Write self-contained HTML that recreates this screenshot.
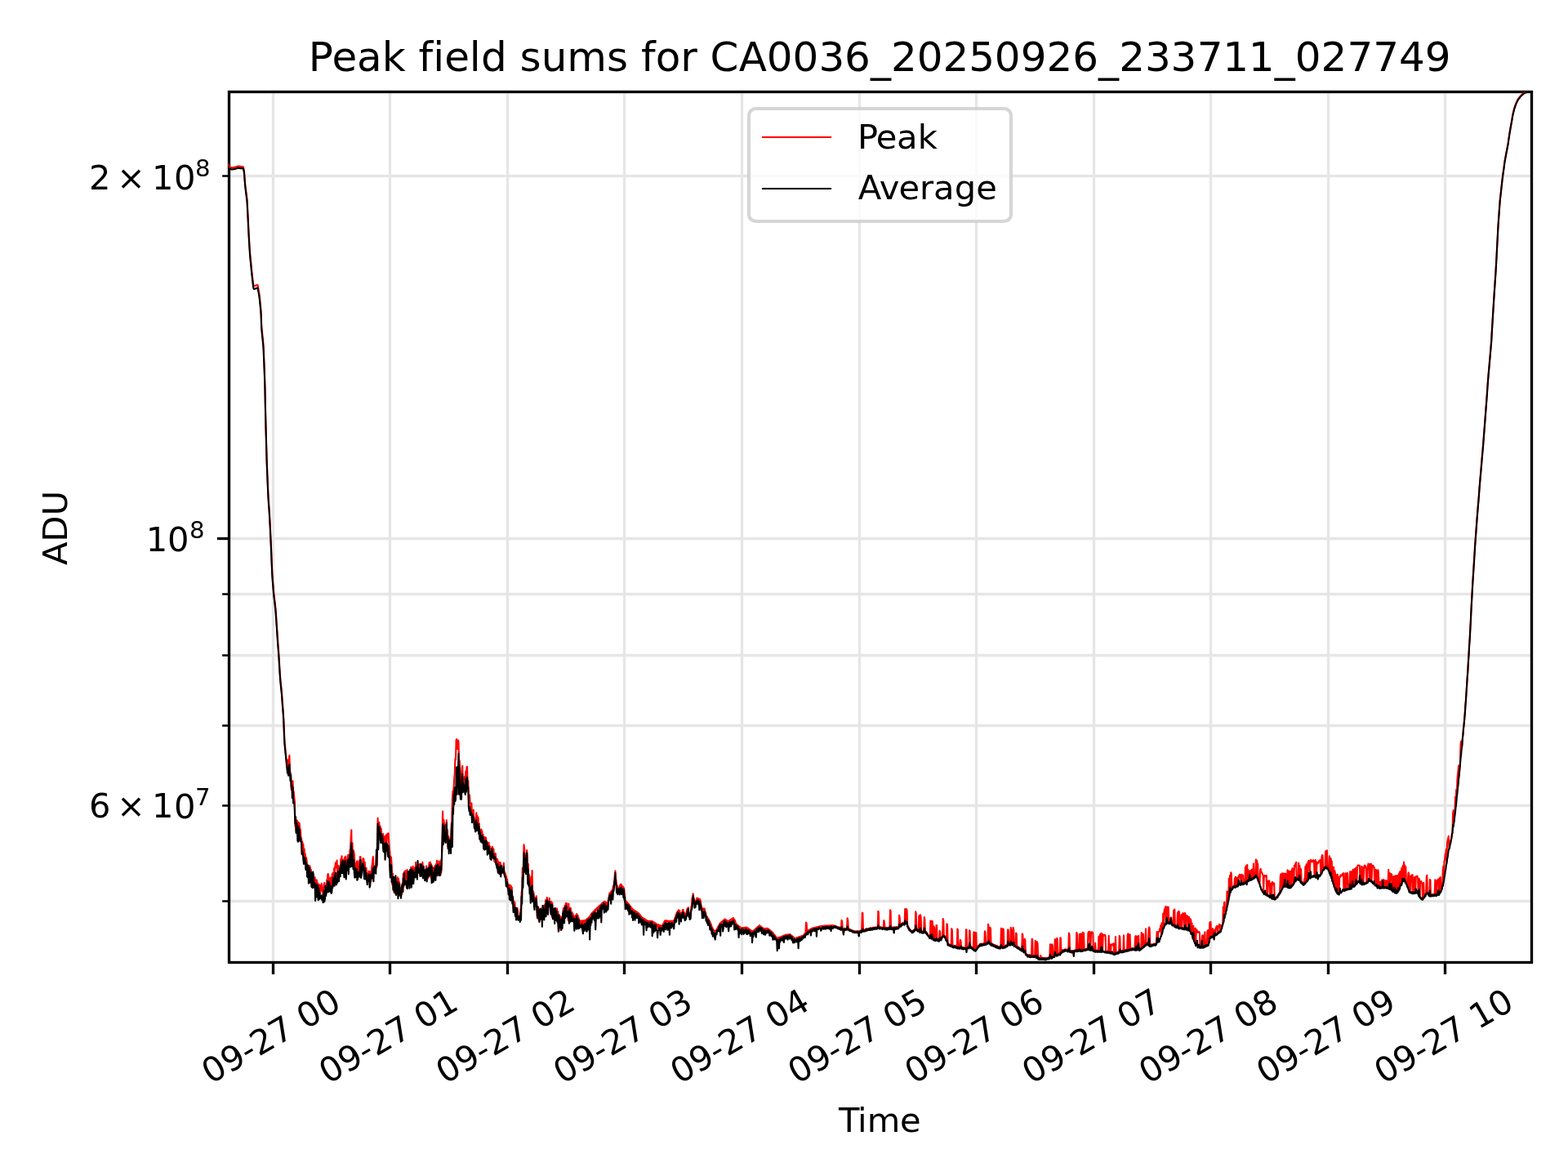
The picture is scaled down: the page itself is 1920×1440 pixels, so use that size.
<!DOCTYPE html>
<html lang="en">
<head>
<meta charset="utf-8">
<title>Peak field sums for CA0036_20250926_233711_027749</title>
<style>
html,body{margin:0;padding:0;background:#fff;width:1920px;height:1440px;overflow:hidden}
svg{display:block}
text{font-family:'DejaVu Sans','Liberation Sans',sans-serif;fill:#000;font-variant-ligatures:none;font-kerning:normal}
</style>
</head>
<body>
<svg width="1920" height="1440" viewBox="0 0 1920 1440">
<rect x="0" y="0" width="1920" height="1440" fill="#ffffff"/>
<g stroke="#e6e6e6" stroke-width="3.33" fill="none">
<line x1="334.5" y1="1177.79" x2="334.5" y2="112"/>
<line x1="477.5" y1="1177.79" x2="477.5" y2="112"/>
<line x1="621.5" y1="1177.79" x2="621.5" y2="112"/>
<line x1="764.5" y1="1177.79" x2="764.5" y2="112"/>
<line x1="908.5" y1="1177.79" x2="908.5" y2="112"/>
<line x1="1052.5" y1="1177.79" x2="1052.5" y2="112"/>
<line x1="1195.5" y1="1177.79" x2="1195.5" y2="112"/>
<line x1="1339.5" y1="1177.79" x2="1339.5" y2="112"/>
<line x1="1482.5" y1="1177.79" x2="1482.5" y2="112"/>
<line x1="1626.5" y1="1177.79" x2="1626.5" y2="112"/>
<line x1="1769.5" y1="1177.79" x2="1769.5" y2="112"/>
<line x1="279.63" y1="215.5" x2="1875" y2="215.5"/>
<line x1="279.63" y1="659.5" x2="1875" y2="659.5"/>
<line x1="279.63" y1="727.5" x2="1875" y2="727.5"/>
<line x1="279.63" y1="802.5" x2="1875" y2="802.5"/>
<line x1="279.63" y1="888.5" x2="1875" y2="888.5"/>
<line x1="279.63" y1="986.5" x2="1875" y2="986.5"/>
<line x1="279.63" y1="1103.5" x2="1875" y2="1103.5"/>
</g>
<g stroke="#000" fill="none">
<line x1="334.5" y1="1178.5" x2="334.5" y2="1193.08" stroke-width="3.33"/>
<line x1="477.5" y1="1178.5" x2="477.5" y2="1193.08" stroke-width="3.33"/>
<line x1="621.5" y1="1178.5" x2="621.5" y2="1193.08" stroke-width="3.33"/>
<line x1="764.5" y1="1178.5" x2="764.5" y2="1193.08" stroke-width="3.33"/>
<line x1="908.5" y1="1178.5" x2="908.5" y2="1193.08" stroke-width="3.33"/>
<line x1="1052.5" y1="1178.5" x2="1052.5" y2="1193.08" stroke-width="3.33"/>
<line x1="1195.5" y1="1178.5" x2="1195.5" y2="1193.08" stroke-width="3.33"/>
<line x1="1339.5" y1="1178.5" x2="1339.5" y2="1193.08" stroke-width="3.33"/>
<line x1="1482.5" y1="1178.5" x2="1482.5" y2="1193.08" stroke-width="3.33"/>
<line x1="1626.5" y1="1178.5" x2="1626.5" y2="1193.08" stroke-width="3.33"/>
<line x1="1769.5" y1="1178.5" x2="1769.5" y2="1193.08" stroke-width="3.33"/>
<line x1="272.17" y1="215.5" x2="280.5" y2="215.5" stroke-width="2.5"/>
<line x1="265.92" y1="659.5" x2="280.5" y2="659.5" stroke-width="3.33"/>
<line x1="272.17" y1="727.5" x2="280.5" y2="727.5" stroke-width="2.5"/>
<line x1="272.17" y1="802.5" x2="280.5" y2="802.5" stroke-width="2.5"/>
<line x1="272.17" y1="888.5" x2="280.5" y2="888.5" stroke-width="2.5"/>
<line x1="272.17" y1="986.5" x2="280.5" y2="986.5" stroke-width="2.5"/>
<line x1="272.17" y1="1103.5" x2="280.5" y2="1103.5" stroke-width="2.5"/>
</g>
<rect x="280.5" y="112.5" width="1595" height="1066" fill="none" stroke="#000" stroke-width="3.33" stroke-linejoin="miter"/>
<clipPath id="axclip"><rect x="279.63" y="112" width="1595.37" height="1065.79"/></clipPath>
<g clip-path="url(#axclip)" fill="none" stroke-width="2.08" stroke-linejoin="round" stroke-linecap="butt">
<path stroke="#ff0000" d="M279.6 200.3L280.2 202.5L280.8 204.4L281.4 204.6L282 204.8L282.6 205.1L283.2 205.2L283.8 205.1L284.3 205.3L284.9 205.2L285.5 205.1L286.1 205L286.7 204.9L287.3 204.8L287.9 204.7L288.5 204.6L289 204.2L289.6 204.1L290.2 204L290.8 203.7L291.4 203.4L292 203.7L292.6 203.5L293.2 203.6L293.8 203.9L294.3 203.9L294.9 203.9L295.5 204.1L296.1 203.9L296.7 204.2L297.3 204.2L297.9 204.2L298.5 207.1L299.1 210.6L299.6 218.3L300.2 225.7L300.8 230.1L301.4 234.8L302 239.3L302.6 244.7L303.2 256.5L303.8 268.2L304.3 279.6L304.9 290.3L305.5 300.7L306.1 309.4L306.7 315.7L307.3 321.7L307.9 328.2L308.5 334L309.1 338.8L309.6 343.5L310.2 348.4L310.8 350.3L311.4 350.3L312 349.9L312.6 349.8L313.2 349.5L313.8 349.4L314.4 349.1L314.9 348.9L315.5 349L316.1 352.2L316.7 355.4L317.3 358.6L317.9 363.4L318.5 369.5L319.1 375.1L319.6 381.3L320.2 398.7L320.8 404.6L321.4 410.6L322 416.4L322.6 423.7L323.2 438.2L323.8 453L324.4 471L324.9 496.2L325.5 520.4L326.1 542.6L326.7 563.9L327.3 578.7L327.9 593.5L328.5 606.8L329.1 615.5L329.7 624L330.2 632.4L330.8 643.6L331.4 656.8L332 669.7L332.6 684.6L333.2 699.2L333.8 708.3L334.4 715.3L334.9 722.4L335.5 727.6L336.1 732.7L336.7 737.7L337.3 742.9L337.9 750.5L338.5 759.7L339.1 768.8L339.7 777.9L340.2 785.5L340.8 793L341.4 801.2L342 811.1L342.6 821.2L343.2 829.8L343.8 835.7L344.4 841.7L345 847.5L345.5 855L346.1 862.7L346.7 870.4L347.3 879.8L347.9 895.1L348.5 908L349.1 914L349.7 920.1L350.2 927.3L350.8 931.6L351.4 934.5L352 943.5L352.6 930.5L353.2 934.6L353.8 929.9L354.4 925.1L355 943.8L355.5 946L356.1 947.7L356.7 966.9L357.3 963.2L357.9 958.9L358.5 956.4L359.1 972.6L359.7 969L360.3 976.8L360.8 979.8L361.4 1011.6L362 1000.2L362.6 1017.8L363.2 1009L363.8 1004.5L364.4 1014.5L365 1026L365.6 1006.7L366.1 1024.4L366.7 1008.2L367.3 1016.7L367.9 1015.6L368.5 1026.3L369.1 1026.4L369.7 1046L370.3 1030.6L370.8 1039.1L371.4 1033.8L372 1047.4L372.6 1039.5L373.2 1051.1L373.8 1045.9L374.4 1062.8L375 1050L375.6 1054.1L376.1 1059.6L376.7 1061.3L377.3 1071.3L377.9 1071.6L378.5 1073L379.1 1060L379.7 1061.9L380.3 1076.5L380.9 1065L381.4 1083.8L382 1069.7L382.6 1083.8L383.2 1082.6L383.8 1070.2L384.4 1079.3L385 1078.6L385.6 1074.3L386.1 1092.8L386.7 1077.7L387.3 1077.5L387.9 1077.7L388.5 1098.6L389.1 1081.4L389.7 1100.4L390.3 1083.3L390.9 1099.8L391.4 1083.5L392 1094.1L392.6 1085.2L393.2 1086.9L393.8 1081.8L394.4 1091.2L395 1089.9L395.6 1097L396.2 1086.2L396.7 1083.3L397.3 1081.1L397.9 1086.2L398.5 1085L399.1 1091.1L399.7 1084.5L400.3 1077.3L400.9 1076.3L401.4 1070.2L402 1070.3L402.6 1075.8L403.2 1080.2L403.8 1088.2L404.4 1076L405 1074.5L405.6 1083.1L406.2 1084.6L406.7 1070.4L407.3 1073.9L407.9 1068.7L408.5 1080L409.1 1063L409.7 1075.8L410.3 1061.2L410.9 1056.3L411.5 1062.3L412 1062.2L412.6 1053.6L413.2 1073.1L413.8 1065.9L414.4 1060L415 1067.1L415.6 1071.6L416.2 1061.3L416.7 1068.5L417.3 1052L417.9 1065.4L418.5 1048.3L419.1 1056.3L419.7 1059.7L420.3 1067.7L420.9 1052.5L421.5 1070.1L422 1050L422.6 1049.8L423.2 1048.6L423.8 1055.2L424.4 1064.9L425 1066.1L425.6 1053.8L426.2 1046.8L426.8 1054.2L427.3 1053L427.9 1050.8L428.5 1041L429.1 1039.3L429.7 1025L430.3 1016.2L430.9 1051.3L431.5 1032.3L432 1051.2L432.6 1041L433.2 1042.5L433.8 1046.7L434.4 1057.9L435 1062.3L435.6 1070L436.2 1058.5L436.8 1055.6L437.3 1054.3L437.9 1070.2L438.5 1064.5L439.1 1068.1L439.7 1054.2L440.3 1072.6L440.9 1049L441.5 1049L442.1 1063L442.6 1061.3L443.2 1058.9L443.8 1065.2L444.4 1051.2L445 1051.2L445.6 1052.8L446.2 1068.2L446.8 1056L447.3 1070.2L447.9 1067.5L448.5 1062.9L449.1 1072L449.7 1075.3L450.3 1070.5L450.9 1072.2L451.5 1066.8L452.1 1068.7L452.6 1066.9L453.2 1083L453.8 1069.9L454.4 1078.9L455 1062.3L455.6 1059.8L456.2 1054.1L456.8 1049L457.4 1058.3L457.9 1068.3L458.5 1066.3L459.1 1067.6L459.7 1065.6L460.3 1063L460.9 1046.4L461.5 1061.4L462.1 1036.2L462.6 1001.8L463.2 1016.8L463.8 1028.8L464.4 1007L465 1027.3L465.6 1011.8L466.2 1024.3L466.8 1014.8L467.4 1030.7L467.9 1031.5L468.5 1021L469.1 1021.3L469.7 1032.1L470.3 1030.4L470.9 1024.3L471.5 1025.5L472.1 1039.2L472.7 1022.3L473.2 1042.3L473.8 1026.2L474.4 1021L475 1024.9L475.6 1020.2L476.2 1030.6L476.8 1038.5L477.4 1044.2L477.9 1067.2L478.5 1048.8L479.1 1051L479.7 1061.5L480.3 1083L480.9 1069.9L481.5 1090.1L482.1 1084.5L482.7 1087.3L483.2 1076.1L483.8 1094L484.4 1075.5L485 1084.2L485.6 1082.3L486.2 1092.8L486.8 1074.3L487.4 1083.4L488 1076.1L488.5 1096.8L489.1 1079.8L489.7 1093.6L490.3 1086.8L490.9 1092.5L491.5 1088.5L492.1 1094.7L492.7 1084.1L493.3 1092.4L493.8 1069.8L494.4 1085.8L495 1067.6L495.6 1075.5L496.2 1066.2L496.8 1080.5L497.4 1067.2L498 1071.8L498.5 1065L499.1 1083.1L499.7 1072.9L500.3 1083.6L500.9 1073.1L501.5 1067.7L502.1 1065.2L502.7 1079.1L503.3 1061.7L503.8 1071.9L504.4 1063.9L505 1075.1L505.6 1060.9L506.2 1072.2L506.8 1063.6L507.4 1062.7L508 1072.2L508.6 1071.1L509.1 1056.1L509.7 1073.8L510.3 1059.1L510.9 1062.4L511.5 1063.5L512.1 1059.2L512.7 1062.4L513.3 1068.5L513.8 1058.1L514.4 1070.6L515 1058.3L515.6 1071.4L516.2 1058.6L516.8 1071L517.4 1055.7L518 1066.9L518.6 1060.5L519.1 1074.4L519.7 1072.2L520.3 1077.4L520.9 1073.5L521.5 1067.9L522.1 1060.3L522.7 1066.2L523.3 1066.8L523.9 1075.6L524.4 1065.1L525 1062.4L525.6 1056.3L526.2 1073.5L526.8 1055.7L527.4 1063.7L528 1058L528.6 1076.6L529.1 1060.2L529.7 1068.2L530.3 1063.1L530.9 1067.1L531.5 1062.1L532.1 1073.9L532.7 1060L533.3 1077.1L533.9 1058L534.4 1068.5L535 1053.8L535.6 1070.3L536.2 1065.5L536.8 1066.5L537.4 1054.6L538 1070.6L538.6 1060.1L539.2 1071.7L539.7 1053.6L540.3 1068.5L540.9 1049L541.5 1029L542.1 993.5L542.7 1022L543.3 1003.8L543.9 1007.7L544.4 1024.1L545 1014.3L545.6 1009.9L546.2 1029.1L546.8 1004.3L547.4 1032.3L548 1016.1L548.6 1036.7L549.2 1024.3L549.7 1038.6L550.3 1034.5L550.9 1040.2L551.5 1026L552.1 1029L552.7 1010.3L553.3 1004.3L553.9 978.9L554.5 968.5L555 971.2L555.6 964.3L556.2 953.1L556.8 947.7L557.4 928.8L558 930.2L558.6 906L559.2 905.2L559.7 906.8L560.3 917.2L560.9 906.6L561.5 907.7L562.1 935.8L562.7 931L563.3 941.8L563.9 969L564.5 953.5L565 952.5L565.6 946L566.2 937.7L566.8 955.3L567.4 962.9L568 952.7L568.6 956L569.2 950.6L569.8 957.1L570.3 944.3L570.9 958.7L571.5 939.3L572.1 938.9L572.7 965.4L573.3 956L573.9 979.1L574.5 979.5L575 973.5L575.6 983.7L576.2 983.4L576.8 990.1L577.4 983.5L578 998.4L578.6 995.4L579.2 996.7L579.8 991.8L580.3 999.9L580.9 1005.6L581.5 1005L582.1 1010.9L582.7 1004.2L583.3 995.2L583.9 1005.6L584.5 999.1L585.1 1015.9L585.6 1001.1L586.2 1013.3L586.8 1008.3L587.4 1027.6L588 1022.8L588.6 1019.7L589.2 1015.5L589.8 1018.3L590.3 1017.4L590.9 1026.7L591.5 1021.8L592.1 1033.3L592.7 1026.1L593.3 1040.3L593.9 1025L594.5 1034.5L595.1 1025.7L595.6 1037L596.2 1030.2L596.8 1032.8L597.4 1040.1L598 1044.9L598.6 1031.7L599.2 1041.5L599.8 1036L600.4 1047.7L600.9 1043.6L601.5 1044L602.1 1040.5L602.7 1036.7L603.3 1037.7L603.9 1051.1L604.5 1039.8L605.1 1054.4L605.6 1053.8L606.2 1055.9L606.8 1045L607.4 1055.8L608 1051.8L608.6 1055.8L609.2 1052L609.8 1067.4L610.4 1055.2L610.9 1056.7L611.5 1056L612.1 1070.4L612.7 1056L613.3 1070.2L613.9 1059.8L614.5 1069.1L615.1 1067.4L615.7 1065.4L616.2 1066.2L616.8 1056.7L617.4 1070L618 1068L618.6 1069.6L619.2 1071.7L619.8 1072.7L620.4 1077.9L621 1076.7L621.5 1082.1L622.1 1085.7L622.7 1087.3L623.3 1083.3L623.9 1087.8L624.5 1083.8L625.1 1090.9L625.7 1084.9L626.2 1089.4L626.8 1086.7L627.4 1105.1L628 1097.6L628.6 1112.9L629.2 1103.3L629.8 1116.5L630.4 1105L631 1116.3L631.5 1114L632.1 1119.7L632.7 1113.8L633.3 1111.7L633.9 1114.1L634.5 1120.9L635.1 1121.9L635.7 1122.8L636.3 1123.4L636.8 1124.6L637.4 1113.3L638 1112.8L638.6 1093.3L639.2 1089.8L639.8 1062.7L640.4 1075L641 1053.9L641.5 1034.3L642.1 1038.2L642.7 1065.7L643.3 1047.7L643.9 1052.1L644.5 1056.3L645.1 1041L645.7 1047.8L646.3 1066.3L646.8 1057.7L647.4 1082.5L648 1071.3L648.6 1083.9L649.2 1084.3L649.8 1089L650.4 1073.6L651 1085.8L651.6 1066L652.1 1093L652.7 1091L653.3 1092.3L653.9 1099L654.5 1099.4L655.1 1104.7L655.7 1103.9L656.3 1099.4L656.8 1097.3L657.4 1112.3L658 1123.9L658.6 1110.1L659.2 1125.6L659.8 1112.3L660.4 1128.8L661 1122.7L661.6 1116.7L662.1 1112.5L662.7 1118.6L663.3 1119.3L663.9 1115.8L664.5 1117.1L665.1 1109L665.7 1110.3L666.3 1122.9L666.9 1108.4L667.4 1121.8L668 1102.2L668.6 1111.4L669.2 1103.5L669.8 1099L670.4 1105.1L671 1117.7L671.6 1106.6L672.1 1110.6L672.7 1099.8L673.3 1109.8L673.9 1106.5L674.5 1116.8L675.1 1104L675.7 1122.6L676.3 1105.6L676.9 1123.3L677.4 1116L678 1119.2L678.6 1121.2L679.2 1126.3L679.8 1118.9L680.4 1121.2L681 1114.4L681.6 1112.3L682.2 1113.1L682.7 1128L683.3 1116.2L683.9 1129.8L684.5 1120.3L685.1 1136L685.7 1133.6L686.3 1139L686.9 1122.3L687.4 1123.7L688 1127.6L688.6 1130.7L689.2 1123.6L689.8 1112.3L690.4 1125.2L691 1120.4L691.6 1108.7L692.2 1120.8L692.7 1106.2L693.3 1105.7L693.9 1106L694.5 1121L695.1 1117.1L695.7 1126.6L696.3 1106.6L696.9 1129.7L697.5 1112.3L698 1112.3L698.6 1111.5L699.2 1116.1L699.8 1119.1L700.4 1116.9L701 1119.1L701.6 1119.2L702.2 1126L702.7 1121.6L703.3 1124.9L703.9 1122L704.5 1122.8L705.1 1120.5L705.7 1125.6L706.3 1119.1L706.9 1122.2L707.5 1120.7L708 1125L708.6 1124L709.2 1128.4L709.8 1127.2L710.4 1134.7L711 1127.6L711.6 1131.4L712.2 1127.5L712.8 1131L713.3 1127.3L713.9 1133.9L714.5 1127.2L715.1 1130.1L715.7 1127L716.3 1133L716.9 1126.7L717.5 1131.2L718 1125.8L718.6 1128.2L719.2 1124.8L719.8 1127.9L720.4 1123.8L721 1123.6L721.6 1122.8L722.2 1129.1L722.8 1120.9L723.3 1125.5L723.9 1119L724.5 1123.1L725.1 1117.6L725.7 1119.9L726.3 1116.5L726.9 1119.6L727.5 1115.3L728.1 1121.1L728.6 1114.1L729.2 1116.3L729.8 1112.9L730.4 1114.6L731 1111.8L731.6 1113.2L732.2 1110.6L732.8 1111.8L733.3 1109.6L733.9 1111.6L734.5 1108.5L735.1 1114.3L735.7 1107.5L736.3 1110.8L736.9 1106.4L737.5 1110.2L738.1 1105.4L738.6 1105.8L739.2 1104.3L739.8 1106.6L740.4 1103.9L741 1110.7L741.6 1104.6L742.2 1106.8L742.8 1105.3L743.4 1110.2L743.9 1106L744.5 1105.2L745.1 1099.4L745.7 1099.3L746.3 1093.9L746.9 1094.8L747.5 1092.5L748.1 1098.2L748.7 1091.1L749.2 1090.4L749.8 1089.7L750.4 1087.5L751 1084.4L751.6 1087.9L752.2 1077.6L752.8 1071.9L753.4 1066.4L753.9 1075.9L754.5 1078.1L755.1 1089.4L755.7 1084.2L756.3 1086.2L756.9 1086.6L757.5 1089.7L758.1 1086.5L758.7 1088.9L759.2 1083.7L759.8 1085.7L760.4 1082.5L761 1088.6L761.6 1084.2L762.2 1086.2L762.8 1085.8L763.4 1087L764 1087.5L764.5 1093.2L765.1 1096.4L765.7 1105.7L766.3 1103.3L766.9 1108.8L767.5 1104.4L768.1 1106L768.7 1105.6L769.2 1112L769.8 1106.8L770.4 1112.8L771 1108.3L771.6 1110.9L772.2 1109.9L772.8 1114.3L773.4 1111.5L774 1116.1L774.5 1113L775.1 1115.7L775.7 1114.1L776.3 1120L776.9 1114.8L777.5 1119L778.1 1115.6L778.7 1117L779.3 1116.3L779.8 1120.7L780.4 1117L781 1117.9L781.6 1117.8L782.2 1123.6L782.8 1119.1L783.4 1121.8L784 1120.5L784.5 1126.8L785.1 1121.9L785.7 1127.9L786.3 1123.2L786.9 1128.8L787.5 1124.2L788.1 1129.3L788.7 1124.9L789.3 1127.5L789.8 1125.6L790.4 1127.3L791 1126.4L791.6 1130.7L792.2 1127.1L792.8 1129.2L793.4 1127.8L794 1131.5L794.6 1127.8L795.1 1129.9L795.7 1127.8L796.3 1132.6L796.9 1127.8L797.5 1129.3L798.1 1127.8L798.7 1130.1L799.3 1128.4L799.8 1132.1L800.4 1129.1L801 1131L801.6 1129.9L802.2 1132.9L802.8 1130.6L803.4 1134.6L804 1131.4L804.6 1134.2L805.1 1132L805.7 1136.6L806.3 1132.4L806.9 1135.7L807.5 1132.7L808.1 1134L808.7 1133.1L809.3 1137.6L809.9 1133.4L810.4 1135.6L811 1133.3L811.6 1137.1L812.2 1130.9L812.8 1132.7L813.4 1128.6L814 1127.5L814.6 1127.1L815.1 1131.4L815.7 1127.2L816.3 1128.5L816.9 1127.4L817.5 1129L818.1 1127.6L818.7 1132.4L819.3 1127.7L819.9 1132.6L820.4 1127.8L821 1128L821.6 1127.7L822.2 1131.7L822.8 1127.7L823.4 1131.8L824 1127.6L824.6 1129.7L825.2 1127.1L825.7 1127.8L826.3 1123.9L826.9 1126.4L827.5 1120.7L828.1 1119.9L828.7 1117.5L829.3 1117.2L829.9 1115.5L830.4 1116.4L831 1114.3L831.6 1118L832.2 1115L832.8 1120.2L833.4 1117.7L834 1123.8L834.6 1118.3L835.2 1120.5L835.7 1114.7L836.3 1113.9L836.9 1114.6L837.5 1118.7L838.1 1118.1L838.7 1122.1L839.3 1120.8L839.9 1120.6L840.5 1116.7L841 1114.9L841.6 1112.6L842.2 1115.1L842.8 1111.2L843.4 1118.7L844 1117.5L844.6 1121.8L845.2 1121.4L845.7 1120L846.3 1110.4L846.9 1108.8L847.5 1099.5L848.1 1100.8L848.7 1094.3L849.3 1100.6L849.9 1100.2L850.5 1104L851 1105.7L851.6 1105.7L852.2 1102.5L852.8 1102.5L853.4 1099.6L854 1102.7L854.6 1100.1L855.2 1101.4L855.8 1100.5L856.3 1104.7L856.9 1101L857.5 1102L858.1 1104.5L858.7 1112.1L859.3 1110.7L859.9 1114.4L860.5 1113.9L861 1115.2L861.6 1112.4L862.2 1114.6L862.8 1112.5L863.4 1119L864 1117.2L864.6 1122.1L865.2 1121.5L865.8 1123.1L866.3 1123.3L866.9 1125.7L867.5 1125L868.1 1127.9L868.7 1127.2L869.3 1129.2L869.9 1130.1L870.5 1131.7L871.1 1133L871.6 1135.5L872.2 1135.7L872.8 1137.4L873.4 1138.1L874 1142.5L874.6 1139.6L875.2 1139.8L875.8 1139.6L876.4 1139.8L876.9 1139.1L877.5 1141.6L878.1 1136.9L878.7 1137.3L879.3 1134.8L879.9 1133.8L880.5 1132.6L881.1 1132.1L881.6 1130.5L882.2 1130.8L882.8 1129.4L883.4 1131.6L884 1128.4L884.6 1129.7L885.2 1127.4L885.8 1130.1L886.4 1126.4L886.9 1127.8L887.5 1125.4L888.1 1127.4L888.7 1126.1L889.3 1126.7L889.9 1126.9L890.5 1128.9L891.1 1127.6L891.7 1129.4L892.2 1127.6L892.8 1127.8L893.4 1126.8L894 1128.9L894.6 1126.1L895.2 1125.9L895.8 1125.4L896.4 1126.7L896.9 1124.6L897.5 1124.5L898.1 1123.9L898.7 1126.4L899.3 1125.9L899.9 1127.3L900.5 1128.6L901.1 1133L901.7 1131.2L902.2 1132.9L902.8 1132.3L903.4 1132.9L904 1133.3L904.6 1134.2L905.2 1134.3L905.8 1136.5L906.4 1135.3L907 1137L907.5 1136.3L908.1 1138.2L908.7 1136.1L909.3 1136.6L909.9 1136L910.5 1139.2L911.1 1135.8L911.7 1137.8L912.2 1135.7L912.8 1137.6L913.4 1135.6L914 1136.5L914.6 1135.8L915.2 1139.3L915.8 1136.5L916.4 1140.2L917 1137.3L917.5 1137.8L918.1 1138.1L918.7 1140.3L919.3 1138.9L919.9 1142.7L920.5 1139.7L921.1 1142.3L921.7 1140.5L922.3 1140L922.8 1139.4L923.4 1141.3L924 1138.4L924.6 1139.1L925.2 1137.3L925.8 1137L926.4 1136.3L927 1136L927.5 1135.2L928.1 1136.7L928.7 1134.1L929.3 1136.4L929.9 1133.1L930.5 1135.5L931.1 1133.9L931.7 1136.6L932.3 1134.9L932.8 1138.1L933.4 1135.9L934 1136.4L934.6 1136.8L935.2 1139L935.8 1137.1L936.4 1137.1L937 1137L937.6 1139.9L938.1 1136.9L938.7 1137.4L939.3 1136.7L939.9 1138L940.5 1137.1L941.1 1138.6L941.7 1138L942.3 1140.7L942.8 1139L943.4 1142.1L944 1139.9L944.6 1141.6L945.2 1140.9L945.8 1142.2L946.4 1142.1L947 1145.2L947.6 1143.6L948.1 1147L948.7 1145.1L949.3 1145.9L949.9 1146.6L950.5 1149L951.1 1148.1L951.7 1150.7L952.3 1148.6L952.9 1149.6L953.4 1148.1L954 1149.2L954.6 1147.6L955.2 1150L955.8 1147.2L956.4 1148.3L957 1146.7L957.6 1147.8L958.1 1146.2L958.7 1146.1L959.3 1145.7L959.9 1145.8L960.5 1145.2L961.1 1145.1L961.7 1144.7L962.3 1145.1L962.9 1144.6L963.4 1146.8L964 1144.4L964.6 1145.3L965.2 1144.2L965.8 1144.3L966.4 1144.1L967 1144.6L967.6 1144L968.2 1145.7L968.7 1145L969.3 1147.7L969.9 1146L970.5 1147.2L971.1 1147L971.7 1147.9L972.3 1148L972.9 1150.7L973.4 1148.9L974 1150.4L974.6 1148.5L975.2 1149.6L975.8 1148.1L976.4 1149.9L977 1147.7L977.6 1147.9L978.2 1147.3L978.7 1148.2L979.3 1146.9L979.9 1148.4L980.5 1146.5L981.1 1147.6L981.7 1146.1L982.3 1147.1L982.9 1145.8L983.5 1146.7L984 1144.8L984.6 1145.3L985.2 1143.4L985.8 1142.9L986.4 1142L987 1129.5L987.6 1130.5L988.2 1140.4L988.7 1139.6L989.3 1139.5L989.9 1139L990.5 1139.3L991.1 1138.4L991.7 1139.3L992.3 1137.8L992.9 1138.3L993.5 1137.2L994 1138.4L994.6 1136.6L995.2 1137.8L995.8 1136.3L996.4 1137.7L997 1136L997.6 1137.6L998.2 1135.7L998.8 1137.1L999.3 1135.4L999.9 1136.6L1000.5 1135.1L1001.1 1136.4L1001.7 1134.8L1002.3 1135.8L1002.9 1134.5L1003.5 1135.6L1004.1 1134.2L1004.6 1134.1L1005.2 1134L1005.8 1134.7L1006.4 1133.9L1007 1134.4L1007.6 1133.8L1008.2 1135.2L1008.8 1133.7L1009.3 1134L1009.9 1133.6L1010.5 1133.8L1011.1 1133.5L1011.7 1133.7L1012.3 1133.4L1012.9 1133.6L1013.5 1133.4L1014.1 1133.8L1014.6 1133.3L1015.2 1133.7L1015.8 1133.2L1016.4 1134.6L1017 1133.1L1017.6 1133.5L1018.2 1133.1L1018.8 1134.4L1019.4 1133.1L1019.9 1134.6L1020.5 1133.1L1021.1 1133.7L1021.7 1134.8L1022.3 1133.5L1022.9 1135.2L1023.5 1133.9L1024.1 1135.2L1024.6 1134.5L1025.2 1136.1L1025.8 1135.1L1026.4 1136.6L1027 1135.1L1027.6 1136.8L1028.2 1135.7L1028.8 1137.5L1029.4 1136.6L1029.9 1138.1L1030.5 1126.7L1031.1 1128.1L1031.7 1136.8L1032.3 1138.3L1032.9 1143.7L1033.5 1138.1L1034.1 1136.6L1034.7 1138L1035.2 1136.9L1035.8 1138.1L1036.4 1137.1L1037 1137.9L1037.6 1124.2L1038.2 1126.4L1038.8 1137.4L1039.4 1138.6L1039.9 1137.4L1040.5 1139.1L1041.1 1138.1L1041.7 1139.3L1042.3 1138.7L1042.9 1139.7L1043.5 1139.2L1044.1 1140.8L1044.7 1139.7L1045.2 1140.8L1045.8 1139.9L1046.4 1141.3L1047 1140.4L1047.6 1141.1L1048.2 1140.2L1048.8 1141.4L1049.4 1140.3L1050 1141.1L1050.5 1139.8L1051.1 1141.2L1051.7 1145.6L1052.3 1140.8L1052.9 1139.9L1053.5 1140.9L1054.1 1139.4L1054.7 1141.1L1055.2 1139.1L1055.8 1117.5L1056.4 1118L1057 1140L1057.6 1138.8L1058.2 1139.7L1058.8 1138.5L1059.4 1139.6L1060 1137.5L1060.5 1138.9L1061.1 1137.1L1061.7 1138.8L1062.3 1137.5L1062.9 1138.4L1063.5 1136.7L1064.1 1137.8L1064.7 1136.9L1065.3 1138.2L1065.8 1136.1L1066.4 1137.8L1067 1136.3L1067.6 1137.9L1068.2 1136L1068.8 1137.6L1069.4 1135.6L1070 1137L1070.5 1135.9L1071.1 1137L1071.7 1135.3L1072.3 1136.6L1072.9 1135.4L1073.5 1137L1074.1 1135.6L1074.7 1136.4L1075.3 1115.8L1075.8 1116.8L1076.4 1135.6L1077 1136.7L1077.6 1135.3L1078.2 1136.4L1078.8 1135.2L1079.4 1136.5L1080 1135.9L1080.6 1137L1081.1 1135.3L1081.7 1136.8L1082.3 1127L1082.9 1129.6L1083.5 1135.8L1084.1 1137.5L1084.7 1135.7L1085.3 1137.6L1085.8 1136L1086.4 1137.8L1087 1135.7L1087.6 1137.2L1088.2 1135.6L1088.8 1137.4L1089.4 1135.5L1090 1114.2L1090.6 1115.2L1091.1 1137.2L1091.7 1135.5L1092.3 1137.3L1092.9 1135.5L1093.5 1136.9L1094.1 1135.5L1094.7 1141.6L1095.3 1135.1L1095.9 1136.8L1096.4 1135.5L1097 1137.1L1097.6 1135.1L1098.2 1136.5L1098.8 1135.1L1099.4 1136.7L1100 1135L1100.6 1135.7L1101.1 1120.8L1101.7 1123.3L1102.3 1133L1102.9 1134L1103.5 1131.3L1104.1 1132.8L1104.7 1130.2L1105.3 1131.7L1105.9 1129.9L1106.4 1131.4L1107 1130.2L1107.6 1131.8L1108.2 1113L1108.8 1115.5L1109.4 1130.5L1110 1113L1110.6 1115.1L1111.2 1134L1111.7 1133.5L1112.3 1136.3L1112.9 1135.7L1113.5 1138.5L1114.1 1137.6L1114.7 1139.3L1115.3 1139L1115.9 1140.5L1116.4 1140L1117 1141.5L1117.6 1139.6L1118.2 1140.8L1118.8 1138.7L1119.4 1140L1120 1137.7L1120.6 1138.7L1121.2 1116.2L1121.7 1118.1L1122.3 1137.1L1122.9 1138.8L1123.5 1137.8L1124.1 1139.9L1124.7 1139L1125.3 1121.3L1125.9 1123.8L1126.5 1141.4L1127 1120.3L1127.6 1122.5L1128.2 1139.9L1128.8 1141.6L1129.4 1140.4L1130 1141.9L1130.6 1140.3L1131.2 1141.7L1131.8 1123L1132.3 1125.8L1132.9 1140.3L1133.5 1141.9L1134.1 1140.8L1134.7 1143.5L1135.3 1142.4L1135.9 1144.9L1136.5 1144.7L1137 1146.1L1137.6 1146.1L1138.2 1148.3L1138.8 1147.4L1139.4 1127.5L1140 1130.4L1140.6 1149L1141.2 1127.5L1141.8 1128.6L1142.3 1148.7L1142.9 1150.5L1143.5 1134.2L1144.1 1136.6L1144.7 1149.2L1145.3 1151.3L1145.9 1149.5L1146.5 1133L1147.1 1133L1147.6 1151.2L1148.2 1150.6L1148.8 1151.6L1149.4 1149.8L1150 1151.9L1150.6 1139.7L1151.2 1141.5L1151.8 1149.8L1152.3 1150.7L1152.9 1147.6L1153.5 1147.9L1154.1 1146.1L1154.7 1125L1155.3 1126.9L1155.9 1146.4L1156.5 1145.7L1157.1 1147.8L1157.6 1147.1L1158.2 1150.5L1158.8 1151.5L1159.4 1131.3L1160 1132.3L1160.6 1156.6L1161.2 1155.4L1161.8 1157L1162.4 1156.3L1162.9 1157.6L1163.5 1156.8L1164.1 1157.9L1164.7 1156.6L1165.3 1137L1165.9 1139.3L1166.5 1159.2L1167.1 1157.8L1167.6 1159.7L1168.2 1157.9L1168.8 1159.5L1169.4 1158L1170 1159.6L1170.6 1158.4L1171.2 1160.2L1171.8 1158.9L1172.4 1137.5L1172.9 1138.6L1173.5 1160.4L1174.1 1159.5L1174.7 1161.2L1175.3 1159.6L1175.9 1150.8L1176.5 1151.9L1177.1 1160.9L1177.7 1159.6L1178.2 1161.3L1178.8 1159.8L1179.4 1161.7L1180 1159.9L1180.6 1161.5L1181.2 1160.5L1181.8 1161.4L1182.4 1159.8L1182.9 1138.3L1183.5 1138.3L1184.1 1160.8L1184.7 1159.6L1185.3 1160.3L1185.9 1159.5L1186.5 1160.6L1187.1 1139.2L1187.7 1140L1188.2 1158.3L1188.8 1160.5L1189.4 1159.3L1190 1160.9L1190.6 1160.4L1191.2 1161.8L1191.8 1160.7L1192.4 1141.3L1193 1142L1193.5 1163.7L1194.1 1162.9L1194.7 1141.7L1195.3 1142.2L1195.9 1162.2L1196.5 1160L1197.1 1160.6L1197.7 1158.4L1198.2 1159L1198.8 1157.3L1199.4 1158.2L1200 1155.8L1200.6 1157.4L1201.2 1155.6L1201.8 1157.4L1202.4 1155.5L1203 1156.9L1203.5 1155.7L1204.1 1156.6L1204.7 1155L1205.3 1156.5L1205.9 1140.3L1206.5 1141.4L1207.1 1154.6L1207.7 1155.9L1208.3 1154.1L1208.8 1155.3L1209.4 1153.7L1210 1131.7L1210.6 1134.3L1211.2 1154.8L1211.8 1153.9L1212.4 1135.8L1213 1137L1213.5 1156.8L1214.1 1155.1L1214.7 1157.3L1215.3 1155.7L1215.9 1157.7L1216.5 1156.7L1217.1 1158L1217.7 1156.9L1218.3 1158.6L1218.8 1157.5L1219.4 1159.5L1220 1158L1220.6 1159.8L1221.2 1158.2L1221.8 1160.1L1222.4 1159.1L1223 1160.7L1223.6 1159.1L1224.1 1160.8L1224.7 1159.6L1225.3 1160.6L1225.9 1136.7L1226.5 1136.7L1227.1 1158.5L1227.7 1160.5L1228.3 1137.5L1228.8 1137.8L1229.4 1158.6L1230 1159.8L1230.6 1158.2L1231.2 1159.5L1231.8 1157.2L1232.4 1158.6L1233 1157.4L1233.6 1158L1234.1 1138.3L1234.7 1138.7L1235.3 1156.1L1235.9 1156.6L1236.5 1155.3L1237.1 1156.8L1237.7 1135.8L1238.3 1138.5L1238.9 1155.1L1239.4 1156.6L1240 1155.3L1240.6 1135.8L1241.2 1138.1L1241.8 1158.1L1242.4 1156.7L1243 1158.2L1243.6 1157.9L1244.1 1142.5L1244.7 1143.4L1245.3 1160.2L1245.9 1159L1246.5 1160.9L1247.1 1159.7L1247.7 1161.4L1248.3 1160.3L1248.9 1162.4L1249.4 1161.8L1250 1162.9L1250.6 1162.1L1251.2 1164L1251.8 1143.3L1252.4 1145.2L1253 1163.9L1253.6 1165.6L1254.2 1164.8L1254.7 1149.7L1255.3 1150.8L1255.9 1168.3L1256.5 1167.6L1257.1 1169.2L1257.7 1168.8L1258.3 1171L1258.9 1169.7L1259.5 1170.5L1260 1169.1L1260.6 1171.2L1261.2 1169.3L1261.8 1171.4L1262.4 1169.4L1263 1171.1L1263.6 1149.7L1264.2 1150L1264.7 1169.9L1265.3 1171L1265.9 1170.3L1266.5 1171.4L1267.1 1170.5L1267.7 1151.7L1268.3 1153.6L1268.9 1172.4L1269.5 1171.9L1270 1153.3L1270.6 1156.1L1271.2 1173.9L1271.8 1172.5L1272.4 1174.2L1273 1173.1L1273.6 1174.2L1274.2 1170L1274.8 1172.6L1275.3 1173L1275.9 1174.2L1276.5 1172.7L1277.1 1174.2L1277.7 1172.9L1278.3 1174.4L1278.9 1173L1279.5 1174.4L1280 1172.9L1280.6 1174.6L1281.2 1172.9L1281.8 1173.8L1282.4 1173.1L1283 1173.7L1283.6 1172.3L1284.2 1173.6L1284.8 1172L1285.3 1173.4L1285.9 1156.3L1286.5 1156.6L1287.1 1171.9L1287.7 1173.1L1288.3 1156.3L1288.9 1158.6L1289.5 1170.6L1290.1 1171.2L1290.6 1170.1L1291.2 1171.2L1291.8 1150L1292.4 1152.9L1293 1169.1L1293.6 1169.9L1294.2 1148.7L1294.8 1150.5L1295.3 1168L1295.9 1168.9L1296.5 1167.5L1297.1 1168.3L1297.7 1166.7L1298.3 1148.3L1298.9 1149L1299.5 1166.5L1300.1 1164.4L1300.6 1165.5L1301.2 1163.4L1301.8 1165L1302.4 1163.1L1303 1164.4L1303.6 1162.5L1304.2 1163.9L1304.8 1162.3L1305.4 1163.5L1305.9 1162.6L1306.5 1163.8L1307.1 1162.9L1307.7 1164.8L1308.3 1163L1308.9 1142.5L1309.5 1145.1L1310.1 1165.2L1310.6 1164.2L1311.2 1165.3L1311.8 1164L1312.4 1165.8L1313 1163.9L1313.6 1165.2L1314.2 1164L1314.8 1170.1L1315.4 1163.8L1315.9 1164.8L1316.5 1163.2L1317.1 1164.2L1317.7 1162.7L1318.3 1141.7L1318.9 1143.7L1319.5 1164.3L1320.1 1162.6L1320.7 1164.1L1321.2 1162.7L1321.8 1143.7L1322.4 1143.7L1323 1164.3L1323.6 1143.2L1324.2 1164.3L1324.8 1162.8L1325.4 1145.3L1325.9 1141.9L1326.5 1163.5L1327.1 1142.6L1327.7 1163.2L1328.3 1162.1L1328.9 1163.3L1329.5 1161.9L1330.1 1162.8L1330.7 1161.5L1331.2 1162.4L1331.8 1161.6L1332.4 1142.7L1333 1141.1L1333.6 1142.1L1334.2 1140.8L1334.8 1163L1335.4 1161.7L1336 1142.5L1336.5 1141.2L1337.1 1143L1337.7 1141.4L1338.3 1143.2L1338.9 1163.1L1339.5 1164.2L1340.1 1162.9L1340.7 1164.9L1341.2 1154.8L1341.8 1164.8L1342.4 1163.6L1343 1164.8L1343.6 1163.6L1344.2 1164.9L1344.8 1163.6L1345.4 1146.6L1346 1163.5L1346.5 1165L1347.1 1144.1L1347.7 1164.9L1348.3 1142.9L1348.9 1144.2L1349.5 1143.3L1350.1 1164.6L1350.7 1144.5L1351.3 1145.7L1351.8 1145.5L1352.4 1144.6L1353 1144.7L1353.6 1146.4L1354.2 1164.7L1354.8 1165.8L1355.4 1164.8L1356 1166L1356.5 1164.6L1357.1 1165.9L1357.7 1145.9L1358.3 1166.4L1358.9 1165L1359.5 1156.6L1360.1 1165.4L1360.7 1156.6L1361.3 1156.5L1361.8 1156.5L1362.4 1156L1363 1157.8L1363.6 1155.3L1364.2 1168.4L1364.8 1156.1L1365.4 1168.1L1366 1147L1366.6 1167.3L1367.1 1166.1L1367.7 1167L1368.3 1165.6L1368.9 1166.9L1369.5 1165.4L1370.1 1166.5L1370.7 1145.8L1371.3 1147.2L1371.9 1164.5L1372.4 1165.6L1373 1164L1373.6 1165.6L1374.2 1163.8L1374.8 1165.3L1375.4 1163.9L1376 1145.4L1376.6 1163.4L1377.1 1164.5L1377.7 1163.2L1378.3 1164.6L1378.9 1163L1379.5 1164.1L1380.1 1162.3L1380.7 1145.5L1381.3 1143.2L1381.9 1163.7L1382.4 1144.7L1383 1163.1L1383.6 1144.3L1384.2 1162.7L1384.8 1161.3L1385.4 1162.8L1386 1161.1L1386.6 1162.4L1387.2 1160.9L1387.7 1162.5L1388.3 1161.5L1388.9 1162.3L1389.5 1161.2L1390.1 1147L1390.7 1146L1391.3 1147.3L1391.9 1161.7L1392.4 1162.9L1393 1146.6L1393.6 1148.2L1394.2 1145.8L1394.8 1163.2L1395.4 1161.8L1396 1162.9L1396.6 1160.9L1397.2 1161.9L1397.7 1142L1398.3 1143L1398.9 1159L1399.5 1160L1400.1 1143.8L1400.7 1159.2L1401.3 1157.2L1401.9 1157.9L1402.5 1156.3L1403 1137.4L1403.6 1155.1L1404.2 1155.5L1404.8 1154.4L1405.4 1156.6L1406 1155.2L1406.6 1136.8L1407.2 1135.4L1407.7 1137.5L1408.3 1156.7L1408.9 1158.4L1409.5 1156.7L1410.1 1157.7L1410.7 1156.2L1411.3 1157.5L1411.9 1156.3L1412.5 1156.9L1413 1155.5L1413.6 1156.5L1414.2 1155.5L1414.8 1157L1415.4 1155.2L1416 1155.9L1416.6 1141L1417.2 1143.8L1417.8 1153.3L1418.3 1140.7L1418.9 1140.7L1419.5 1140.6L1420.1 1137.4L1420.7 1137.5L1421.3 1133.1L1421.9 1145.6L1422.5 1130.4L1423 1142.7L1423.6 1139.1L1424.2 1118.9L1424.8 1136.1L1425.4 1116.7L1426 1113.4L1426.6 1112.5L1427.2 1110.1L1427.8 1131.3L1428.3 1111.2L1428.9 1112.9L1429.5 1110.4L1430.1 1130L1430.7 1110.8L1431.3 1130L1431.9 1128.6L1432.5 1130.5L1433.1 1129.5L1433.6 1123.6L1434.2 1123.5L1434.8 1131.8L1435.4 1130.8L1436 1132.9L1436.6 1131.4L1437.2 1114.8L1437.8 1113.8L1438.3 1113.6L1438.9 1132.6L1439.5 1134.8L1440.1 1133.7L1440.7 1135.4L1441.3 1134.2L1441.9 1118.9L1442.5 1116.6L1443.1 1136.4L1443.6 1115.8L1444.2 1118.3L1444.8 1135L1445.4 1136.1L1446 1135.1L1446.6 1120.4L1447.2 1135.4L1447.8 1119.6L1448.4 1118.1L1448.9 1119.7L1449.5 1120L1450.1 1137.6L1450.7 1118L1451.3 1118.3L1451.9 1136.8L1452.5 1137.9L1453.1 1121.1L1453.6 1122.6L1454.2 1121.9L1454.8 1124L1455.4 1137.2L1456 1122.8L1456.6 1137.5L1457.2 1126.1L1457.8 1125.4L1458.4 1127.3L1458.9 1142.8L1459.5 1130.5L1460.1 1145.7L1460.7 1148.8L1461.3 1133.9L1461.9 1151.7L1462.5 1152L1463.1 1138.6L1463.7 1136.6L1464.2 1157.4L1464.8 1138.2L1465.4 1141L1466 1139.4L1466.6 1141.7L1467.2 1141.8L1467.8 1141.3L1468.4 1141.1L1468.9 1142.5L1469.5 1158.4L1470.1 1160L1470.7 1158.1L1471.3 1159.8L1471.9 1145.9L1472.5 1145.9L1473.1 1145.2L1473.7 1159.5L1474.2 1157.8L1474.8 1159.3L1475.4 1141.2L1476 1158.6L1476.6 1156.6L1477.2 1157.9L1477.8 1156.3L1478.4 1140.4L1479 1139.4L1479.5 1138.8L1480.1 1154.3L1480.7 1152.8L1481.3 1129.5L1481.9 1148.2L1482.5 1128.7L1483.1 1147.5L1483.7 1146.2L1484.2 1147L1484.8 1137L1485.4 1146.4L1486 1144.5L1486.6 1149.6L1487.2 1138.2L1487.8 1145L1488.4 1143.3L1489 1136.2L1489.5 1134.3L1490.1 1136.4L1490.7 1133.9L1491.3 1142.7L1491.9 1133.7L1492.5 1134.2L1493.1 1131.7L1493.7 1133L1494.3 1139.3L1494.8 1132.8L1495.4 1137.3L1496 1136.5L1496.6 1132.9L1497.2 1131.9L1497.8 1110.5L1498.4 1128.1L1499 1105.3L1499.6 1104.7L1500.1 1119.5L1500.7 1118.9L1501.3 1114.5L1501.9 1114.1L1502.5 1091.5L1503.1 1107.8L1503.7 1103.8L1504.3 1102.2L1504.8 1075.9L1505.4 1096.5L1506 1072.1L1506.6 1092.5L1507.2 1068.2L1507.8 1069.9L1508.4 1087.5L1509 1088.2L1509.6 1085.8L1510.1 1086.5L1510.7 1084.6L1511.3 1085.7L1511.9 1075.2L1512.5 1086.1L1513.1 1073.5L1513.7 1074.9L1514.3 1083.5L1514.9 1075.1L1515.4 1083.4L1516 1084.6L1516.6 1072.8L1517.2 1074.8L1517.8 1070.9L1518.4 1073.8L1519 1072.3L1519.6 1082.8L1520.1 1070.7L1520.7 1072.7L1521.3 1071.6L1521.9 1071.5L1522.5 1080.2L1523.1 1082.1L1523.7 1080.6L1524.3 1081.1L1524.9 1061.9L1525.4 1061.8L1526 1060L1526.6 1082.5L1527.2 1059.1L1527.8 1078.6L1528.4 1065L1529 1067.4L1529.6 1076.5L1530.2 1067.8L1530.7 1066.2L1531.3 1067.7L1531.9 1075.4L1532.5 1065.8L1533.1 1064.5L1533.7 1076L1534.3 1074.1L1534.9 1057.5L1535.4 1073.4L1536 1074.5L1536.6 1072.6L1537.2 1073.6L1537.8 1052.6L1538.4 1071.8L1539 1053.6L1539.6 1056.9L1540.2 1058L1540.7 1078.4L1541.3 1078.3L1541.9 1081.1L1542.5 1081.9L1543.1 1065.1L1543.7 1063.9L1544.3 1068.1L1544.9 1068.2L1545.5 1069.1L1546 1070.7L1546.6 1071.7L1547.2 1092L1547.8 1074.5L1548.4 1071.9L1549 1072.7L1549.6 1072.6L1550.2 1073.6L1550.7 1072.1L1551.3 1095.9L1551.9 1094.6L1552.5 1079.9L1553.1 1078.4L1553.7 1079.5L1554.3 1078.6L1554.9 1098.4L1555.5 1097.4L1556 1081.9L1556.6 1098.5L1557.2 1099.9L1557.8 1079.9L1558.4 1081.5L1559 1081.2L1559.6 1083.1L1560.2 1081.5L1560.8 1100.8L1561.3 1099.3L1561.9 1100.4L1562.5 1098.5L1563.1 1098.8L1563.7 1097.6L1564.3 1098.4L1564.9 1095.6L1565.5 1095.9L1566 1093.7L1566.6 1094.6L1567.2 1091.7L1567.8 1073.4L1568.4 1070.3L1569 1071.8L1569.6 1087.3L1570.2 1069.2L1570.8 1085.5L1571.3 1072.6L1571.9 1069.5L1572.5 1085.1L1573.1 1070.5L1573.7 1084.9L1574.3 1069.5L1574.9 1073.1L1575.5 1084.1L1576.1 1085.3L1576.6 1065.4L1577.2 1086.5L1577.8 1085L1578.4 1066.8L1579 1067.9L1579.6 1086.7L1580.2 1066.9L1580.8 1086.1L1581.3 1083.6L1581.9 1066.1L1582.5 1063.2L1583.1 1063.8L1583.7 1081.2L1584.3 1081.8L1584.9 1059.9L1585.5 1061.2L1586.1 1057.7L1586.6 1059.3L1587.2 1055.7L1587.8 1076.8L1588.4 1074.6L1589 1076.3L1589.6 1075.4L1590.2 1056.7L1590.8 1076.9L1591.4 1060L1591.9 1077.6L1592.5 1063.5L1593.1 1064.9L1593.7 1081.1L1594.3 1079.7L1594.9 1082L1595.5 1080.6L1596.1 1083.1L1596.6 1082.2L1597.2 1075.8L1597.8 1080.4L1598.4 1061L1599 1079.4L1599.6 1058.2L1600.2 1077.6L1600.8 1078.2L1601.4 1056L1601.9 1055.6L1602.5 1053.7L1603.1 1055.4L1603.7 1074.3L1604.3 1055.3L1604.9 1053.1L1605.5 1054.9L1606.1 1053.6L1606.7 1055.6L1607.2 1053.9L1607.8 1054.7L1608.4 1053.2L1609 1054.8L1609.6 1071.6L1610.2 1055.1L1610.8 1053.1L1611.4 1074.1L1611.9 1073.1L1612.5 1055.5L1613.1 1056.3L1613.7 1057.4L1614.3 1056.5L1614.9 1054.9L1615.5 1053.7L1616.1 1054L1616.7 1052.9L1617.2 1070.8L1617.8 1068.4L1618.4 1049.6L1619 1047.1L1619.6 1047.5L1620.2 1064.9L1620.8 1065L1621.4 1062.4L1622 1063L1622.5 1060.8L1623.1 1042.7L1623.7 1042L1624.3 1062.8L1624.9 1041.4L1625.5 1063.1L1626.1 1062.5L1626.7 1065.1L1627.3 1065.6L1627.8 1048.2L1628.4 1050.3L1629 1071.5L1629.6 1051.3L1630.2 1054.8L1630.8 1054.7L1631.4 1078.4L1632 1078.3L1632.5 1062.8L1633.1 1061.7L1633.7 1085.4L1634.3 1066L1634.9 1069.3L1635.5 1071.4L1636.1 1091.4L1636.7 1071.5L1637.3 1093.3L1637.8 1070.9L1638.4 1074.5L1639 1093L1639.6 1094.8L1640.2 1073.8L1640.8 1074.3L1641.4 1071.6L1642 1072.9L1642.6 1071.8L1643.1 1072.2L1643.7 1070L1644.3 1070.7L1644.9 1069.1L1645.5 1090.1L1646.1 1088.6L1646.7 1090L1647.3 1069.2L1647.8 1089.5L1648.4 1087.7L1649 1070.9L1649.6 1068.7L1650.2 1070.3L1650.8 1087.5L1651.4 1088.3L1652 1087.2L1652.6 1088.2L1653.1 1067.3L1653.7 1068.9L1654.3 1067.4L1654.9 1087.5L1655.5 1067.3L1656.1 1067.8L1656.7 1064.8L1657.3 1085.2L1657.9 1064.8L1658.4 1084.9L1659 1063.9L1659.6 1083.3L1660.2 1063.3L1660.8 1062.3L1661.4 1080.2L1662 1061.7L1662.6 1059.6L1663.1 1059.5L1663.7 1059.6L1664.3 1060.1L1664.9 1059.8L1665.5 1081.2L1666.1 1079.7L1666.7 1081.8L1667.3 1060.9L1667.9 1062.2L1668.4 1082.1L1669 1062.2L1669.6 1080.9L1670.2 1062.8L1670.8 1059.5L1671.4 1062.5L1672 1060.3L1672.6 1062L1673.2 1079.6L1673.7 1080.8L1674.3 1079.1L1674.9 1060L1675.5 1057.5L1676.1 1059.1L1676.7 1058.9L1677.3 1078.4L1677.9 1057.9L1678.4 1058.6L1679 1057.8L1679.6 1079.5L1680.2 1059.8L1680.8 1062L1681.4 1059.8L1682 1062.5L1682.6 1061.8L1683.2 1082.7L1683.7 1082.6L1684.3 1064.9L1684.9 1064.9L1685.5 1067.7L1686.1 1084.8L1686.7 1066.5L1687.3 1065.3L1687.9 1067.9L1688.5 1085.5L1689 1087.2L1689.6 1085.5L1690.2 1079.7L1690.8 1085.5L1691.4 1086.8L1692 1077.5L1692.6 1086.6L1693.2 1077.6L1693.7 1079.4L1694.3 1076.9L1694.9 1079.5L1695.5 1085.3L1696.1 1086.4L1696.7 1078L1697.3 1080.9L1697.9 1085.4L1698.5 1078.6L1699 1085.7L1699.6 1087L1700.2 1065.1L1700.8 1088L1701.4 1069.1L1702 1088.4L1702.6 1069.5L1703.2 1071.4L1703.8 1070.1L1704.3 1071.7L1704.9 1089.3L1705.5 1073.6L1706.1 1090.4L1706.7 1073.3L1707.3 1091.5L1707.9 1073.5L1708.5 1072.3L1709 1092.8L1709.6 1072.3L1710.2 1075.7L1710.8 1072.3L1711.4 1092.1L1712 1071.7L1712.6 1090.1L1713.2 1069.2L1713.8 1088.1L1714.3 1067L1714.9 1067L1715.5 1083.5L1716.1 1063.4L1716.7 1080.9L1717.3 1062.6L1717.9 1059.8L1718.5 1078.3L1719.1 1055.6L1719.6 1077.3L1720.2 1059.5L1720.8 1080.2L1721.4 1061.6L1722 1082.2L1722.6 1082.3L1723.2 1085.2L1723.8 1084.9L1724.3 1070.2L1724.9 1068.4L1725.5 1072.5L1726.1 1090.9L1726.7 1073L1727.3 1091.5L1727.9 1075L1728.5 1071.5L1729.1 1073.5L1729.6 1071.2L1730.2 1093.5L1730.8 1091.7L1731.4 1074.9L1732 1074.1L1732.6 1093.4L1733.2 1092L1733.8 1073.3L1734.4 1073.2L1734.9 1072.8L1735.5 1072.7L1736.1 1074.9L1736.7 1094.5L1737.3 1076.1L1737.9 1076.1L1738.5 1098.1L1739.1 1079.7L1739.6 1081L1740.2 1079.1L1740.8 1081.4L1741.4 1081.5L1742 1101L1742.6 1098.8L1743.2 1080.7L1743.8 1097.4L1744.4 1097.8L1744.9 1095.3L1745.5 1096.4L1746.1 1093.8L1746.7 1074.1L1747.3 1071.7L1747.9 1093.5L1748.5 1092.9L1749.1 1095.2L1749.7 1094.9L1750.2 1096.7L1750.8 1077.1L1751.4 1077.4L1752 1095.4L1752.6 1096.6L1753.2 1095.2L1753.8 1096.6L1754.4 1095L1755 1096.4L1755.5 1095.2L1756.1 1096.3L1756.7 1094.6L1757.3 1077.4L1757.9 1094.5L1758.5 1079.1L1759.1 1094.7L1759.7 1078.7L1760.2 1077.2L1760.8 1078.3L1761.4 1076.6L1762 1095.3L1762.6 1075.3L1763.2 1075.5L1763.8 1074.1L1764.4 1091.4L1765 1088.6L1765.5 1088.5L1766.1 1084.6L1766.7 1066.5L1767.3 1060.7L1767.9 1078.8L1768.5 1054.5L1769.1 1052.7L1769.7 1046.1L1770.3 1045.2L1770.8 1039.8L1771.4 1056.7L1772 1032.2L1772.6 1028.9L1773.2 1026.3L1773.8 1023.9L1774.4 1039L1775 1037.4L1775.5 1033.4L1776.1 1032.4L1776.7 1028.5L1777.3 1026.1L1777.9 1021.3L1778.5 1018.9L1779.1 995.7L1779.7 992.2L1780.3 1006.6L1780.8 1003.4L1781.4 996.9L1782 975.6L1782.6 987.2L1783.2 966.9L1783.8 975.3L1784.4 955.2L1785 947.9L1785.6 942.9L1786.1 937.3L1786.7 949.1L1787.3 941.5L1787.9 936.1L1788.5 911.6L1789.1 907.8L1789.7 916.5L1790.3 912.3L1790.8 904.3L1791.4 899.4L1792 891.8L1792.6 886.7L1793.2 880.2L1793.8 873.2L1794.4 863.6L1795 856.3L1795.6 846.5L1796.1 839.2L1796.7 829.2L1797.3 821.7L1797.9 810.4L1798.5 801.7L1799.1 790.5L1799.7 782.1L1800.3 769.4L1800.9 758.3L1801.4 747.1L1802 735.9L1802.6 724.8L1803.2 714.1L1803.8 704.7L1804.4 695.2L1805 685.8L1805.6 676.4L1806.1 667.7L1806.7 659.4L1807.3 651.2L1807.9 643L1808.5 634.8L1809.1 627.3L1809.7 620.1L1810.3 612.9L1810.9 605.6L1811.4 598.4L1812 591.2L1812.6 584.2L1813.2 577.3L1813.8 570.3L1814.4 563.4L1815 556.5L1815.6 549.6L1816.2 542.7L1816.7 535.8L1817.3 528.2L1817.9 520.4L1818.5 512.5L1819.1 504.6L1819.7 496.8L1820.3 488.9L1820.9 481L1821.4 473.1L1822 465.3L1822.6 457.6L1823.2 450.8L1823.8 444.1L1824.4 437.3L1825 430.5L1825.6 423.7L1826.2 416.7L1826.7 406.9L1827.3 397.1L1827.9 387.3L1828.5 377.5L1829.1 367.7L1829.7 358.3L1830.3 349.5L1830.9 340.7L1831.5 331.9L1832 323.1L1832.6 312.2L1833.2 300.5L1833.8 288.7L1834.4 277L1835 268.3L1835.6 259.9L1836.2 251.5L1836.7 244.9L1837.3 239.5L1837.9 234.1L1838.5 228.7L1839.1 223.2L1839.7 217.8L1840.3 213L1840.9 208.9L1841.5 204.8L1842 200.7L1842.6 196.6L1843.2 193.2L1843.8 190L1844.4 186.8L1845 183.6L1845.6 180.5L1846.2 177.3L1846.8 174.1L1847.3 170.2L1847.9 166.2L1848.5 162.2L1849.1 158.6L1849.7 155.3L1850.3 151.9L1850.9 148.6L1851.5 145.3L1852 141.9L1852.6 139L1853.2 136.5L1853.8 134L1854.4 131.8L1855 130.1L1855.6 128.4L1856.2 126.6L1856.8 125.4L1857.3 124.2L1857.9 123.1L1858.5 121.9L1859.1 120.9L1859.7 120.1L1860.3 119.3L1860.9 118.5L1861.5 117.7L1862.1 117.2L1862.6 116.6L1863.2 116.1L1863.8 115.5L1864.4 115L1865 114.6L1865.6 114.1L1866.2 113.7L1866.8 113.3L1867.3 113.1L1867.9 112.8L1868.5 112.6L1869.1 112.4L1869.7 112.3L1870.3 112.3L1870.9 112.2L1871.5 112.2L1872.1 112.1L1872.6 112L1873.2 112L1873.8 112L1874.4 112L1875 112"/>
<path stroke="#000000" d="M279.6 205.9L280.2 206.2L280.8 206.6L281.4 206.8L282 207L282.6 207.3L283.2 207.4L283.8 207.3L284.3 207.5L284.9 207.4L285.5 207.3L286.1 207.2L286.7 207.1L287.3 207L287.9 206.9L288.5 206.8L289 206.4L289.6 206.3L290.2 206.2L290.8 205.9L291.4 205.6L292 205.9L292.6 205.7L293.2 205.8L293.8 206.1L294.3 206.1L294.9 206.1L295.5 206.3L296.1 206.1L296.7 206.4L297.3 206.4L297.9 206.4L298.5 209.3L299.1 212.8L299.6 220.8L300.2 228.5L300.8 233.1L301.4 238L302 242.7L302.6 248.2L303.2 260.2L303.8 271.9L304.3 283.3L304.9 294L305.5 304.4L306.1 313.1L306.7 319.4L307.3 325.4L307.9 331.9L308.5 337.7L309.1 342.5L309.6 347.2L310.2 352.1L310.8 354L311.4 354L312 353.6L312.6 353.5L313.2 353.2L313.8 353.1L314.4 352.8L314.9 352.6L315.5 352.7L316.1 355.9L316.7 359.1L317.3 362.3L317.9 367.1L318.5 373.2L319.1 378.8L319.6 385L320.2 402.4L320.8 408.3L321.4 414.3L322 420.1L322.6 427.4L323.2 441.9L323.8 456.7L324.4 474.7L324.9 499.9L325.5 524.1L326.1 546.3L326.7 567.6L327.3 582.4L327.9 597.2L328.5 610.5L329.1 619.2L329.7 627.7L330.2 636.1L330.8 647.3L331.4 660.5L332 673.4L332.6 688.3L333.2 702.9L333.8 712L334.4 719L334.9 726.1L335.5 731.3L336.1 736.4L336.7 741.4L337.3 746.6L337.9 754.2L338.5 763.4L339.1 772.5L339.7 781.6L340.2 789.2L340.8 796.7L341.4 804.9L342 814.8L342.6 824.9L343.2 833.5L343.8 839.4L344.4 845.4L345 851.2L345.5 858.7L346.1 866.4L346.7 874.1L347.3 883.5L347.9 898.8L348.5 911.7L349.1 917.7L349.7 923.8L350.2 928L350.8 935.2L351.4 940.4L352 946.6L352.6 944.7L353.2 949.6L353.8 938.6L354.4 936L355 946.6L355.5 956L356.1 949.1L356.7 963.8L357.3 961.3L357.9 977.3L358.5 963.7L359.1 983.5L359.7 981.3L360.3 982.7L360.8 991.8L361.4 1008.3L362 1000.2L362.6 1019.9L363.2 1007.4L363.8 1010.4L364.4 1029.7L365 1030.6L365.6 1012.2L366.1 1028.2L366.7 1016.2L367.3 1030L367.9 1025.2L368.5 1030.1L369.1 1032.3L369.7 1046.3L370.3 1041.8L370.8 1044L371.4 1053L372 1057.9L372.6 1049.8L373.2 1057.4L373.8 1051.6L374.4 1065L375 1056.3L375.6 1060L376.1 1073.5L376.7 1074.1L377.3 1059.6L377.9 1081.7L378.5 1064.3L379.1 1062.9L379.7 1080.8L380.3 1077.2L380.9 1068.2L381.4 1085.9L382 1076.3L382.6 1087.1L383.2 1067.5L383.8 1073.1L384.4 1086.6L385 1084.4L385.6 1081.4L386.1 1102.9L386.7 1083.6L387.3 1083.3L387.9 1098.3L388.5 1088.4L389.1 1084.2L389.7 1102.3L390.3 1087.7L390.9 1101.2L391.4 1093.4L392 1099.4L392.6 1100.2L393.2 1100.3L393.8 1096.4L394.4 1102.3L395 1098L395.6 1105.2L396.2 1097L396.7 1090.6L397.3 1104.1L397.9 1101.2L398.5 1084.7L399.1 1097.2L399.7 1093.1L400.3 1092.2L400.9 1085.3L401.4 1078.9L402 1092.4L402.6 1089.3L403.2 1080.6L403.8 1087.5L404.4 1092L405 1084.8L405.6 1093.9L406.2 1093.2L406.7 1086.3L407.3 1087.1L407.9 1074.5L408.5 1084.6L409.1 1076.4L409.7 1084.6L410.3 1071.9L410.9 1068.7L411.5 1079.3L412 1083.3L412.6 1076.3L413.2 1080.6L413.8 1067L414.4 1070.2L415 1079.3L415.6 1070.3L416.2 1063.4L416.7 1073.2L417.3 1059.3L417.9 1068.9L418.5 1055.6L419.1 1069.1L419.7 1054L420.3 1067.1L420.9 1067.2L421.5 1074.3L422 1056.5L422.6 1054.1L423.2 1072L423.8 1076.5L424.4 1060.1L425 1065.9L425.6 1054.1L426.2 1052.7L426.8 1070.5L427.3 1060.3L427.9 1051.1L428.5 1046.8L429.1 1061.8L429.7 1039.5L430.3 1032.3L430.9 1060.7L431.5 1041L432 1057.4L432.6 1064.3L433.2 1052.7L433.8 1069.1L434.4 1074.7L435 1063L435.6 1074.1L436.2 1071.2L436.8 1064.3L437.3 1077.8L437.9 1077L438.5 1070.7L439.1 1067.9L439.7 1072.1L440.3 1073.8L440.9 1061.2L441.5 1052.7L442.1 1074.9L442.6 1071.9L443.2 1065.8L443.8 1062.5L444.4 1057.2L445 1060L445.6 1070.5L446.2 1076.5L446.8 1062.9L447.3 1071.2L447.9 1076.5L448.5 1068.7L449.1 1077.8L449.7 1083.2L450.3 1078.6L450.9 1079L451.5 1070.6L452.1 1073.1L452.6 1086.6L453.2 1084.6L453.8 1071.1L454.4 1076.6L455 1072.6L455.6 1075.3L456.2 1068.3L456.8 1062.9L457.4 1079.3L457.9 1065.5L458.5 1060.7L459.1 1068.7L459.7 1067.6L460.3 1069.8L460.9 1040.2L461.5 1059.2L462.1 1024.1L462.6 1008.5L463.2 1040.3L463.8 1018.9L464.4 1012.5L465 1020.8L465.6 1018.5L466.2 1032L466.8 1021.8L467.4 1032L467.9 1023.2L468.5 1026L469.1 1039.5L469.7 1043L470.3 1042.9L470.9 1032.7L471.5 1052.8L472.1 1047.5L472.7 1032L473.2 1041.3L473.8 1033.4L474.4 1034.3L475 1048.7L475.6 1036L476.2 1050.3L476.8 1047.7L477.4 1063.7L477.9 1074.5L478.5 1066.3L479.1 1059.3L479.7 1080.3L480.3 1079.2L480.9 1073.5L481.5 1089L482.1 1073.8L482.7 1092.7L483.2 1081.5L483.8 1087.2L484.4 1072.4L485 1095.9L485.6 1089.4L486.2 1084.5L486.8 1080.4L487.4 1100.1L488 1088.9L488.5 1096.8L489.1 1082.2L489.7 1093.8L490.3 1090.5L490.9 1099.8L491.5 1094.8L492.1 1084.9L492.7 1082L493.3 1091.8L493.8 1075.1L494.4 1084.4L495 1069.4L495.6 1082.7L496.2 1081.2L496.8 1083.2L497.4 1079.1L498 1087.5L498.5 1080.5L499.1 1088.1L499.7 1067L500.3 1078.2L500.9 1067.5L501.5 1087.6L502.1 1065.1L502.7 1075.6L503.3 1064.4L503.8 1086.7L504.4 1079.7L505 1073.7L505.6 1065.5L506.2 1082.2L506.8 1074.3L507.4 1070.8L508 1068.1L508.6 1074.5L509.1 1063.4L509.7 1062L510.3 1061.4L510.9 1076.7L511.5 1054L512.1 1068.9L512.7 1064L513.3 1068.1L513.8 1064.3L514.4 1072.9L515 1058.3L515.6 1072.7L516.2 1058.9L516.8 1072.5L517.4 1067.8L518 1075.4L518.6 1061.1L519.1 1070.7L519.7 1064.9L520.3 1078.2L520.9 1077L521.5 1069.5L522.1 1063.9L522.7 1079.5L523.3 1065.6L523.9 1073.9L524.4 1062.5L525 1072.7L525.6 1066.6L526.2 1067.1L526.8 1059.2L527.4 1071.4L528 1060.4L528.6 1081.1L529.1 1062.8L529.7 1080.5L530.3 1073.4L530.9 1079.6L531.5 1068.3L532.1 1076.7L532.7 1063.2L533.3 1077.9L533.9 1060.7L534.4 1065.6L535 1059.7L535.6 1072.1L536.2 1058.8L536.8 1066.7L537.4 1064.7L538 1072.1L538.6 1061.2L539.2 1071.8L539.7 1061.3L540.3 1065.8L540.9 1052.5L541.5 1032.5L542.1 1009.3L542.7 1034.2L543.3 1012.5L543.9 1011L544.4 1030.3L545 1019.3L545.6 1032L546.2 1025.7L546.8 1007.7L547.4 1027L548 1023.7L548.6 1039.3L549.2 1027.7L549.7 1045.1L550.3 1029.1L550.9 1037.7L551.5 1032.7L552.1 1045L552.7 1019L553.3 1007.7L553.9 1037L554.5 989.3L555 997L555.6 972.7L556.2 985.3L556.8 964.3L557.4 981.2L558 978.6L558.6 951.8L559.2 939.3L559.7 972.8L560.3 944.1L560.9 946.1L561.5 922.7L562.1 972.8L562.7 939.3L563.3 965.3L563.9 978.7L564.5 964.3L565 978.7L565.6 956L566.2 947.7L566.8 970.3L567.4 958.8L568 961.5L568.6 964.3L569.2 970.3L569.8 972.9L570.3 953.5L570.9 969.6L571.5 955.6L572.1 951.8L572.7 966.2L573.3 964.3L573.9 987.8L574.5 993.2L575 987.7L575.6 998L576.2 992L576.8 997.7L577.4 996L578 1007.1L578.6 997.8L579.2 1001.2L579.8 1000.2L580.3 1007L580.9 1014.3L581.5 1009.5L582.1 1018.5L582.7 1006.1L583.3 1004.3L583.9 1017.2L584.5 1013.2L585.1 1012.8L585.6 1009L586.2 1021.2L586.8 1012.8L587.4 1027.5L588 1019L588.6 1030.6L589.2 1026.7L589.8 1022.8L590.3 1031.8L590.9 1032.3L591.5 1024.7L592.1 1039.1L592.7 1037.2L593.3 1040.5L593.9 1029.5L594.5 1039.9L595.1 1029.3L595.6 1037.2L596.2 1031.3L596.8 1046.7L597.4 1044.1L598 1045.1L598.6 1036.2L599.2 1045.2L599.8 1043L600.4 1051.6L600.9 1043L601.5 1052.9L602.1 1039.1L602.7 1041.2L603.3 1050.2L603.9 1050L604.5 1046.1L605.1 1051.7L605.6 1051.1L606.2 1050.5L606.8 1049.5L607.4 1058.5L608 1059.8L608.6 1063.4L609.2 1058.4L609.8 1068.6L610.4 1063.6L610.9 1061.2L611.5 1070.2L612.1 1068.8L612.7 1061L613.3 1073.4L613.9 1059.8L614.5 1066.3L615.1 1068.8L615.7 1065.7L616.2 1065.8L616.8 1061.2L617.4 1070.2L618 1072.9L618.6 1074.2L619.2 1076.2L619.8 1085.2L620.4 1085.6L621 1079.9L621.5 1085L622.1 1089.2L622.7 1095.4L623.3 1087.8L623.9 1101.5L624.5 1090.7L625.1 1102.4L625.7 1089.7L626.2 1102.5L626.8 1091.2L627.4 1106.8L628 1098.6L628.6 1117L629.2 1107.8L629.8 1116.8L630.4 1115.2L631 1121.9L631.5 1111.6L632.1 1126.5L632.7 1112L633.3 1116.2L633.9 1125.2L634.5 1126.7L635.1 1124L635.7 1122.1L636.3 1124.4L636.8 1129L637.4 1117.8L638 1126.8L638.6 1097.8L639.2 1106.8L639.8 1074.3L640.4 1087L641 1060.2L641.5 1044.3L642.1 1063.7L642.7 1067.7L643.3 1051L643.9 1070.3L644.5 1045.2L645.1 1044.3L645.7 1063.7L646.3 1082.5L646.8 1064.3L647.4 1085L648 1079.2L648.6 1094.6L649.2 1091L649.8 1105.8L650.4 1086.6L651 1100.6L651.6 1084.3L652.1 1103.9L652.7 1094.3L653.3 1095.8L653.9 1108.8L654.5 1114L655.1 1105.6L655.7 1108.8L656.3 1100.4L656.8 1100.8L657.4 1113.8L658 1123.9L658.6 1110.5L659.2 1122L659.8 1115.8L660.4 1128.8L661 1114L661.6 1125.9L662.1 1112.8L662.7 1120.6L663.3 1114L663.9 1134.7L664.5 1108.8L665.1 1112.5L665.7 1125.5L666.3 1126.3L666.9 1119.3L667.4 1113.3L668 1106.9L668.6 1122.2L669.2 1103L669.8 1102.5L670.4 1115.5L671 1119.8L671.6 1103.9L672.1 1109.9L672.7 1103.7L673.3 1110L673.9 1108.3L674.5 1119.4L675.1 1107.5L675.7 1120.5L676.3 1108.2L676.9 1125.5L677.4 1113.4L678 1123.9L678.6 1112.5L679.2 1130.9L679.8 1112.1L680.4 1126.9L681 1124L681.6 1115.8L682.2 1128.8L682.7 1120.6L683.3 1131.6L683.9 1140.8L684.5 1120.2L685.1 1128.9L685.7 1135.6L686.3 1135.2L686.9 1125.8L687.4 1138.8L688 1124.8L688.6 1136.8L689.2 1119.1L689.8 1115.8L690.4 1128.8L691 1130.5L691.6 1111.1L692.2 1124.3L692.7 1114.7L693.3 1109.2L693.9 1122.2L694.5 1120.3L695.1 1116.5L695.7 1123.3L696.3 1115.9L696.9 1130.7L697.5 1113.3L698 1115.8L698.6 1128.8L699.2 1118L699.8 1127.9L700.4 1121.5L701 1128.2L701.6 1124.7L702.2 1128.4L702.7 1124.5L703.3 1139.8L703.9 1127.3L704.5 1129.2L705.1 1124.7L705.7 1137.6L706.3 1122.1L706.9 1135.8L707.5 1125.8L708 1137.3L708.6 1126L709.2 1136.7L709.8 1132.9L710.4 1135.4L711 1133.1L711.6 1135.6L712.2 1131.4L712.8 1135.3L713.3 1139.1L713.9 1143.2L714.5 1133.3L715.1 1140L715.7 1131.2L716.3 1134.9L716.9 1131.9L717.5 1140L718 1130.4L718.6 1140.6L719.2 1127.1L719.8 1138.6L720.4 1125.8L721 1132.2L721.6 1127.9L722.2 1150.5L722.8 1124.3L723.3 1133.1L723.9 1124.5L724.5 1129.7L725.1 1119.4L725.7 1125.6L726.3 1119.9L726.9 1124L727.5 1117.4L728.1 1127.5L728.6 1117.6L729.2 1138.3L729.8 1125.2L730.4 1120L731 1117.6L731.6 1124.4L732.2 1114.4L732.8 1117.2L733.3 1124.4L733.9 1122L734.5 1112.4L735.1 1122.1L735.7 1109.8L736.3 1129.4L736.9 1108.4L737.5 1113.3L738.1 1110.7L738.6 1112.4L739.2 1106L739.8 1117.7L740.4 1106.8L741 1116.2L741.6 1109.2L742.2 1116.6L742.8 1110.8L743.4 1114.7L743.9 1109.5L744.5 1113.7L745.1 1103.2L745.7 1102.4L746.3 1096.5L746.9 1101.7L747.5 1095.5L748.1 1106.6L748.7 1098.5L749.2 1097.4L749.8 1091.7L750.4 1101.5L751 1089.8L751.6 1090.9L752.2 1079.4L752.8 1082.9L753.4 1069.1L753.9 1078.5L754.5 1083.5L755.1 1093.1L755.7 1088.6L756.3 1095.2L756.9 1088.8L757.5 1094L758.1 1088.3L758.7 1095.4L759.2 1088.3L759.8 1089.4L760.4 1086.8L761 1095.1L761.6 1088.4L762.2 1093.9L762.8 1089.1L763.4 1099.2L764 1089.3L764.5 1102.2L765.1 1098.3L765.7 1113.2L766.3 1106.6L766.9 1112.6L767.5 1107.6L768.1 1113L768.7 1108.4L769.2 1115.3L769.8 1108.6L770.4 1119.8L771 1110.2L771.6 1115.6L772.2 1118.6L772.8 1116.7L773.4 1115.3L774 1123.5L774.5 1116.6L775.1 1126.9L775.7 1117.8L776.3 1124L776.9 1117.2L777.5 1126.7L778.1 1119.2L778.7 1123.9L779.3 1120.1L779.8 1124L780.4 1119.1L781 1123.4L781.6 1121.2L782.2 1130.1L782.8 1122.2L783.4 1128.6L784 1123.8L784.5 1129.5L785.1 1125.5L785.7 1132.1L786.3 1126.4L786.9 1132.6L787.5 1126.3L788.1 1144.7L788.7 1129.6L789.3 1132.2L789.8 1128.2L790.4 1131.8L791 1129.2L791.6 1139.1L792.2 1130.1L792.8 1135.3L793.4 1129.6L794 1134.7L794.6 1132.4L795.1 1133.9L795.7 1131.5L796.3 1135.4L796.9 1129.3L797.5 1135.1L798.1 1129.5L798.7 1146.2L799.3 1132.3L799.8 1136L800.4 1141.9L801 1137.9L801.6 1132.3L802.2 1140L802.8 1132.9L803.4 1136.8L804 1139.3L804.6 1139.3L805.1 1148.3L805.7 1140.2L806.3 1139.4L806.9 1137.9L807.5 1135.7L808.1 1138.2L808.7 1144.8L809.3 1139.6L809.9 1136.3L810.4 1139.7L811 1136.2L811.6 1137.2L812.2 1132.8L812.8 1140.8L813.4 1132.6L814 1137.6L814.6 1130L815.1 1138.1L815.7 1130.6L816.3 1132.7L816.9 1131.1L817.5 1138.8L818.1 1131.4L818.7 1135.2L819.3 1130.1L819.9 1144.6L820.4 1131.1L821 1133.3L821.6 1131L822.2 1136.1L822.8 1130L823.4 1134.2L824 1131.6L824.6 1133.8L825.2 1137.2L825.7 1130.8L826.3 1126.6L826.9 1129.6L827.5 1123.5L828.1 1128.7L828.7 1120.2L829.3 1122.3L829.9 1117.2L830.4 1124L831 1118.5L831.6 1131.6L832.2 1118.6L832.8 1125.6L833.4 1121.8L834 1128.4L834.6 1120L835.2 1124L835.7 1117L836.3 1122.3L836.9 1117.9L837.5 1124.4L838.1 1121.7L838.7 1127.3L839.3 1123.5L839.9 1125.8L840.5 1120.9L841 1121.6L841.6 1116.4L842.2 1119.5L842.8 1112.8L843.4 1122.8L844 1119.2L844.6 1126L845.2 1123.1L845.7 1125L846.3 1113.8L846.9 1114.2L847.5 1111.1L848.1 1105.7L848.7 1096.9L849.3 1104L849.9 1101.9L850.5 1111.7L851 1108L851.6 1110.8L852.2 1104.8L852.8 1107.2L853.4 1103.4L854 1106.4L854.6 1102.2L855.2 1107.4L855.8 1104L856.3 1114.2L856.9 1104.4L857.5 1110.2L858.1 1107.8L858.7 1114.6L859.3 1113.2L859.9 1124.2L860.5 1116.7L861 1122L861.6 1124.2L862.2 1116.5L862.8 1115.9L863.4 1121.5L864 1119.1L864.6 1127.6L865.2 1123L865.8 1130.2L866.3 1126.6L866.9 1132.9L867.5 1126.6L868.1 1130.8L868.7 1130.5L869.3 1138.1L869.9 1133.2L870.5 1139.2L871.1 1137.1L871.6 1143.6L872.2 1138.1L872.8 1146.6L873.4 1141.9L874 1143.8L874.6 1142.3L875.2 1149L875.8 1150.5L876.4 1145.1L876.9 1141.9L877.5 1144.3L878.1 1138.8L878.7 1140.3L879.3 1138.4L879.9 1140.2L880.5 1134.5L881.1 1140.6L881.6 1132L882.2 1145.6L882.8 1132.2L883.4 1134.1L884 1132L884.6 1133.4L885.2 1140.4L885.8 1136L886.4 1128.5L886.9 1131.2L887.5 1127.8L888.1 1134.1L888.7 1129.2L889.3 1135.1L889.9 1129.3L890.5 1133.3L891.1 1131L891.7 1136.3L892.2 1140.2L892.8 1131.6L893.4 1128.9L894 1134.5L894.6 1129.8L895.2 1134.1L895.8 1128.6L896.4 1132.2L896.9 1128.4L897.5 1129.6L898.1 1127.3L898.7 1129.3L899.3 1138.4L899.9 1133.4L900.5 1132L901.1 1137.9L901.7 1134.4L902.2 1136.1L902.8 1133.8L903.4 1138.6L904 1135.3L904.6 1147.9L905.2 1137.8L905.8 1143.1L906.4 1138.6L907 1140.9L907.5 1139.7L908.1 1144.2L908.7 1137.6L909.3 1141.8L909.9 1138.1L910.5 1143.9L911.1 1139.1L911.7 1142.7L912.2 1138.8L912.8 1141.4L913.4 1137.9L914 1143.7L914.6 1138.5L915.2 1144L915.8 1139.7L916.4 1143.2L917 1139.2L917.5 1142.8L918.1 1140.9L918.7 1146L919.3 1142.3L919.9 1143.2L920.5 1143L921.1 1154.3L921.7 1141.9L922.3 1147.2L922.8 1142.3L923.4 1142.7L924 1140.1L924.6 1143.6L925.2 1145.6L925.8 1147.7L926.4 1138.4L927 1139.7L927.5 1137.2L928.1 1141.2L928.7 1136.6L929.3 1140.9L929.9 1135.8L930.5 1137.4L931.1 1136L931.7 1140L932.3 1136.6L932.8 1142.8L933.4 1137.3L934 1142.6L934.6 1139.4L935.2 1144.2L935.8 1138.9L936.4 1144.3L937 1144.7L937.6 1143.3L938.1 1139.9L938.7 1141.8L939.3 1139.6L939.9 1142.4L940.5 1139.2L941.1 1141.4L941.7 1139.4L942.3 1145.6L942.8 1141.2L943.4 1144.9L944 1142.1L944.6 1146.4L945.2 1142.9L945.8 1145.5L946.4 1150.6L947 1146.4L947.6 1145.8L948.1 1150.5L948.7 1147.3L949.3 1149.5L949.9 1149.6L950.5 1151.4L951.1 1150.4L951.7 1164.2L952.3 1151.3L952.9 1154.8L953.4 1151L954 1161.4L954.6 1149.9L955.2 1153.6L955.8 1149.1L956.4 1151.6L957 1149L957.6 1151.1L958.1 1148.5L958.7 1152.1L959.3 1147L959.9 1153.9L960.5 1147.2L961.1 1149.7L961.7 1146.6L962.3 1148L962.9 1146L963.4 1149.6L964 1146.7L964.6 1150.7L965.2 1145.7L965.8 1147.3L966.4 1146.6L967 1149.6L967.6 1145.2L968.2 1148.3L968.7 1146.9L969.3 1150.9L969.9 1147.3L970.5 1151.9L971.1 1154.5L971.7 1151.9L972.3 1149.8L972.9 1154.3L973.4 1150.7L974 1151.8L974.6 1150.8L975.2 1153.5L975.8 1150.1L976.4 1153.2L977 1149.2L977.6 1161.1L978.2 1149.1L978.7 1151.5L979.3 1148.4L979.9 1152.4L980.5 1148.7L981.1 1151.2L981.7 1147.7L982.3 1150.5L982.9 1147.1L983.5 1148.8L984 1146.2L984.6 1147.9L985.2 1145.9L985.8 1147.9L986.4 1144L987 1144.8L987.6 1142.7L988.2 1144.1L988.7 1141.2L989.3 1144.2L989.9 1140.9L990.5 1141.6L991.1 1140.5L991.7 1140.9L992.3 1139.2L992.9 1145.5L993.5 1139.5L994 1140.9L994.6 1138.2L995.2 1140.3L995.8 1137.7L996.4 1139.4L997 1137.5L997.6 1140.3L998.2 1137.2L998.8 1139.8L999.3 1137.3L999.9 1146.7L1000.5 1137.3L1001.1 1138L1001.7 1136.6L1002.3 1137.8L1002.9 1135.8L1003.5 1136.9L1004.1 1136.4L1004.6 1137.1L1005.2 1139.8L1005.8 1138.4L1006.4 1136L1007 1136.3L1007.6 1135.1L1008.2 1137.8L1008.8 1134.9L1009.3 1137.2L1009.9 1135.4L1010.5 1137.7L1011.1 1135.4L1011.7 1137.2L1012.3 1134.7L1012.9 1136.9L1013.5 1135L1014.1 1136.5L1014.6 1135.3L1015.2 1137.4L1015.8 1135.3L1016.4 1137.4L1017 1135.1L1017.6 1140L1018.2 1134.3L1018.8 1136.4L1019.4 1135.1L1019.9 1136.9L1020.5 1135.1L1021.1 1134.5L1021.7 1135.6L1022.3 1134.3L1022.9 1136L1023.5 1134.7L1024.1 1136L1024.6 1135.3L1025.2 1136.9L1025.8 1135.9L1026.4 1137.4L1027 1135.9L1027.6 1137.6L1028.2 1136.5L1028.8 1138.3L1029.4 1137.4L1029.9 1138.9L1030.5 1134.9L1031.1 1137.3L1031.7 1137.6L1032.3 1139.1L1032.9 1144.5L1033.5 1138.9L1034.1 1137.4L1034.7 1138.8L1035.2 1137.7L1035.8 1138.9L1036.4 1137.9L1037 1138.7L1037.6 1134.3L1038.2 1136.7L1038.8 1138.2L1039.4 1139.4L1039.9 1138.2L1040.5 1139.9L1041.1 1138.9L1041.7 1140.1L1042.3 1139.5L1042.9 1140.5L1043.5 1140L1044.1 1141.6L1044.7 1140.5L1045.2 1141.6L1045.8 1140.7L1046.4 1142.1L1047 1141.2L1047.6 1141.9L1048.2 1141L1048.8 1142.2L1049.4 1141.1L1050 1141.9L1050.5 1140.6L1051.1 1142L1051.7 1146.4L1052.3 1141.6L1052.9 1140.7L1053.5 1141.7L1054.1 1140.2L1054.7 1141.9L1055.2 1139.9L1055.8 1138.5L1056.4 1137.6L1057 1140.8L1057.6 1139.6L1058.2 1140.5L1058.8 1139.3L1059.4 1140.4L1060 1138.3L1060.5 1139.7L1061.1 1137.9L1061.7 1139.6L1062.3 1138.3L1062.9 1139.2L1063.5 1137.5L1064.1 1138.6L1064.7 1137.7L1065.3 1139L1065.8 1136.9L1066.4 1138.6L1067 1137.1L1067.6 1138.7L1068.2 1136.8L1068.8 1138.4L1069.4 1136.4L1070 1137.8L1070.5 1136.7L1071.1 1137.8L1071.7 1136.1L1072.3 1137.4L1072.9 1136.2L1073.5 1137.8L1074.1 1136.4L1074.7 1137.2L1075.3 1133L1075.8 1134.9L1076.4 1136.4L1077 1137.5L1077.6 1136.1L1078.2 1137.2L1078.8 1136L1079.4 1137.3L1080 1136.7L1080.6 1137.8L1081.1 1136.1L1081.7 1137.6L1082.3 1136.3L1082.9 1137.6L1083.5 1136.6L1084.1 1138.3L1084.7 1136.5L1085.3 1138.4L1085.8 1136.8L1086.4 1138.6L1087 1136.5L1087.6 1138L1088.2 1136.4L1088.8 1138.2L1089.4 1136.3L1090 1134.8L1090.6 1134.1L1091.1 1138L1091.7 1136.3L1092.3 1138.1L1092.9 1136.3L1093.5 1137.7L1094.1 1136.3L1094.7 1142.4L1095.3 1135.9L1095.9 1137.6L1096.4 1136.3L1097 1137.9L1097.6 1135.9L1098.2 1137.3L1098.8 1135.9L1099.4 1137.5L1100 1135.8L1100.6 1136.5L1101.1 1131.7L1101.7 1133.4L1102.3 1133.8L1102.9 1134.8L1103.5 1132.1L1104.1 1133.6L1104.7 1131L1105.3 1132.5L1105.9 1130.7L1106.4 1132.2L1107 1131L1107.6 1132.6L1108.2 1127.4L1108.8 1129.6L1109.4 1131.3L1110 1128.6L1110.6 1129.3L1111.2 1134.8L1111.7 1134.3L1112.3 1137.1L1112.9 1136.5L1113.5 1139.3L1114.1 1138.4L1114.7 1140.1L1115.3 1139.8L1115.9 1141.3L1116.4 1140.8L1117 1142.3L1117.6 1140.4L1118.2 1141.6L1118.8 1139.5L1119.4 1140.8L1120 1138.5L1120.6 1139.5L1121.2 1133.4L1121.7 1136.1L1122.3 1137.9L1122.9 1139.6L1123.5 1138.6L1124.1 1140.7L1124.7 1139.8L1125.3 1138.8L1125.9 1138.4L1126.5 1142.2L1127 1136.2L1127.6 1138.4L1128.2 1140.7L1128.8 1142.4L1129.4 1141.2L1130 1142.7L1130.6 1141.1L1131.2 1142.5L1131.8 1136.4L1132.3 1139.1L1132.9 1141.1L1133.5 1142.7L1134.1 1141.6L1134.7 1144.3L1135.3 1143.2L1135.9 1145.7L1136.5 1145.5L1137 1146.9L1137.6 1146.9L1138.2 1149.1L1138.8 1148.2L1139.4 1144.7L1140 1144.8L1140.6 1149.8L1141.2 1144.2L1141.8 1146.8L1142.3 1149.5L1142.9 1151.3L1143.5 1149.9L1144.1 1151.7L1144.7 1150L1145.3 1152.1L1145.9 1150.3L1146.5 1150.1L1147.1 1148.9L1147.6 1152L1148.2 1151.4L1148.8 1152.4L1149.4 1150.6L1150 1152.7L1150.6 1148.1L1151.2 1149.9L1151.8 1150.6L1152.3 1151.5L1152.9 1148.4L1153.5 1148.7L1154.1 1146.9L1154.7 1147L1155.3 1145.5L1155.9 1147.2L1156.5 1146.5L1157.1 1148.6L1157.6 1147.9L1158.2 1151.3L1158.8 1152.3L1159.4 1150.8L1160 1152.2L1160.6 1157.4L1161.2 1156.2L1161.8 1157.8L1162.4 1157.1L1162.9 1158.4L1163.5 1157.6L1164.1 1158.7L1164.7 1157.4L1165.3 1159.2L1165.9 1158.5L1166.5 1160L1167.1 1158.6L1167.6 1160.5L1168.2 1158.7L1168.8 1160.3L1169.4 1158.8L1170 1160.4L1170.6 1159.2L1171.2 1161L1171.8 1159.7L1172.4 1161.6L1172.9 1159.7L1173.5 1161.2L1174.1 1160.3L1174.7 1162L1175.3 1160.4L1175.9 1159.9L1176.5 1158.9L1177.1 1161.7L1177.7 1160.4L1178.2 1162.1L1178.8 1160.6L1179.4 1162.5L1180 1160.7L1180.6 1162.3L1181.2 1161.3L1181.8 1162.2L1182.4 1160.6L1182.9 1162.2L1183.5 1166L1184.1 1161.6L1184.7 1160.4L1185.3 1161.1L1185.9 1160.3L1186.5 1161.4L1187.1 1154.8L1187.7 1157.3L1188.2 1159.1L1188.8 1161.3L1189.4 1160.1L1190 1161.7L1190.6 1161.2L1191.2 1162.6L1191.8 1161.5L1192.4 1163.8L1193 1162.7L1193.5 1164.5L1194.1 1163.7L1194.7 1164.6L1195.3 1162.6L1195.9 1163L1196.5 1160.8L1197.1 1161.4L1197.7 1159.2L1198.2 1159.8L1198.8 1158.1L1199.4 1159L1200 1156.6L1200.6 1158.2L1201.2 1156.4L1201.8 1158.2L1202.4 1156.3L1203 1157.7L1203.5 1156.5L1204.1 1157.4L1204.7 1155.8L1205.3 1157.3L1205.9 1155.8L1206.5 1156.8L1207.1 1155.4L1207.7 1156.7L1208.3 1154.9L1208.8 1156.1L1209.4 1154.5L1210 1152.8L1210.6 1152.3L1211.2 1155.6L1211.8 1154.7L1212.4 1156.6L1213 1155.2L1213.5 1157.6L1214.1 1155.9L1214.7 1158.1L1215.3 1156.5L1215.9 1158.5L1216.5 1157.5L1217.1 1158.8L1217.7 1157.7L1218.3 1159.4L1218.8 1158.3L1219.4 1160.3L1220 1158.8L1220.6 1160.6L1221.2 1159L1221.8 1160.9L1222.4 1159.9L1223 1161.5L1223.6 1159.9L1224.1 1161.6L1224.7 1160.4L1225.3 1161.4L1225.9 1157.1L1226.5 1158.7L1227.1 1159.3L1227.7 1161.3L1228.3 1159.7L1228.8 1160.7L1229.4 1159.4L1230 1160.6L1230.6 1159L1231.2 1160.3L1231.8 1158L1232.4 1159.4L1233 1158.2L1233.6 1158.8L1234.1 1152.8L1234.7 1154.8L1235.3 1156.9L1235.9 1157.4L1236.5 1156.1L1237.1 1157.6L1237.7 1152.7L1238.3 1154.5L1238.9 1155.9L1239.4 1157.4L1240 1156.1L1240.6 1154.1L1241.2 1154L1241.8 1158.9L1242.4 1157.5L1243 1159L1243.6 1158.7L1244.1 1160L1244.7 1159.3L1245.3 1161L1245.9 1159.8L1246.5 1161.7L1247.1 1160.5L1247.7 1162.2L1248.3 1161.1L1248.9 1163.2L1249.4 1162.6L1250 1163.7L1250.6 1162.9L1251.2 1164.8L1251.8 1158.6L1252.4 1161.2L1253 1164.7L1253.6 1166.4L1254.2 1165.6L1254.7 1164.3L1255.3 1164.2L1255.9 1169.1L1256.5 1168.4L1257.1 1170L1257.7 1169.6L1258.3 1171.8L1258.9 1170.5L1259.5 1171.3L1260 1169.9L1260.6 1172L1261.2 1170.1L1261.8 1172.2L1262.4 1170.2L1263 1171.9L1263.6 1170.4L1264.2 1172L1264.7 1170.7L1265.3 1171.8L1265.9 1171.1L1266.5 1172.2L1267.1 1171.3L1267.7 1170L1268.3 1170.1L1268.9 1173.2L1269.5 1172.7L1270 1170.9L1270.6 1170.5L1271.2 1174.7L1271.8 1173.3L1272.4 1175L1273 1173.9L1273.6 1175L1274.2 1173.7L1274.8 1175L1275.3 1173.8L1275.9 1175L1276.5 1173.5L1277.1 1175L1277.7 1173.7L1278.3 1175.2L1278.9 1173.8L1279.5 1175.2L1280 1173.7L1280.6 1175.4L1281.2 1173.7L1281.8 1174.6L1282.4 1173.9L1283 1174.5L1283.6 1173.1L1284.2 1174.4L1284.8 1172.8L1285.3 1174.2L1285.9 1168.9L1286.5 1170.8L1287.1 1172.7L1287.7 1173.9L1288.3 1171.7L1288.9 1172.7L1289.5 1171.4L1290.1 1172L1290.6 1170.9L1291.2 1172L1291.8 1165.8L1292.4 1167.9L1293 1169.9L1293.6 1170.7L1294.2 1169.2L1294.8 1170.5L1295.3 1168.8L1295.9 1169.7L1296.5 1168.3L1297.1 1169.1L1297.7 1167.5L1298.3 1169.4L1298.9 1166.6L1299.5 1167.3L1300.1 1165.2L1300.6 1166.3L1301.2 1164.2L1301.8 1165.8L1302.4 1163.9L1303 1165.2L1303.6 1163.3L1304.2 1164.7L1304.8 1163.1L1305.4 1164.3L1305.9 1163.4L1306.5 1164.6L1307.1 1163.7L1307.7 1165.6L1308.3 1163.8L1308.9 1161.1L1309.5 1160.5L1310.1 1166L1310.6 1165L1311.2 1166.1L1311.8 1164.8L1312.4 1166.6L1313 1164.7L1313.6 1166L1314.2 1164.8L1314.8 1170.9L1315.4 1164.6L1315.9 1165.6L1316.5 1164L1317.1 1165L1317.7 1163.5L1318.3 1165.2L1318.9 1163.4L1319.5 1165.1L1320.1 1163.4L1320.7 1164.9L1321.2 1163.5L1321.8 1162.4L1322.4 1163.1L1323 1165.1L1323.6 1163.4L1324.2 1165.1L1324.8 1163.6L1325.4 1164.9L1325.9 1163.1L1326.5 1164.3L1327.1 1162.9L1327.7 1164L1328.3 1162.9L1328.9 1164.1L1329.5 1162.7L1330.1 1163.6L1330.7 1162.3L1331.2 1163.2L1331.8 1162.4L1332.4 1163L1333 1156.8L1333.6 1163.3L1334.2 1155.4L1334.8 1163.8L1335.4 1162.5L1336 1163.8L1336.5 1162.4L1337.1 1158.8L1337.7 1160.5L1338.3 1164.6L1338.9 1163.9L1339.5 1165L1340.1 1163.7L1340.7 1165.7L1341.2 1164.3L1341.8 1165.6L1342.4 1164.4L1343 1165.6L1343.6 1164.4L1344.2 1165.7L1344.8 1164.4L1345.4 1165.6L1346 1164.3L1346.5 1165.8L1347.1 1164.1L1347.7 1165.7L1348.3 1159.8L1348.9 1165.9L1349.5 1160.1L1350.1 1165.4L1350.7 1164.8L1351.3 1165.6L1351.8 1164.8L1352.4 1166.2L1353 1165.1L1353.6 1166.5L1354.2 1165.5L1354.8 1166.6L1355.4 1165.6L1356 1166.8L1356.5 1165.4L1357.1 1166.7L1357.7 1165.7L1358.3 1167.2L1358.9 1165.8L1359.5 1167.5L1360.1 1166.2L1360.7 1167.8L1361.3 1166.7L1361.8 1165.3L1362.4 1167.2L1363 1168.5L1363.6 1167.6L1364.2 1169.2L1364.8 1167.5L1365.4 1168.9L1366 1167.3L1366.6 1168.1L1367.1 1166.9L1367.7 1167.8L1368.3 1166.4L1368.9 1167.7L1369.5 1166.2L1370.1 1167.3L1370.7 1165.5L1371.3 1163.1L1371.9 1165.3L1372.4 1166.4L1373 1164.8L1373.6 1166.4L1374.2 1164.6L1374.8 1166.1L1375.4 1164.7L1376 1165.8L1376.6 1164.2L1377.1 1165.3L1377.7 1164L1378.3 1165.4L1378.9 1163.8L1379.5 1164.9L1380.1 1163.1L1380.7 1164.7L1381.3 1163.4L1381.9 1164.5L1382.4 1162.8L1383 1163.9L1383.6 1163L1384.2 1163.5L1384.8 1162.1L1385.4 1163.6L1386 1161.9L1386.6 1163.2L1387.2 1161.7L1387.7 1163.3L1388.3 1162.3L1388.9 1163.1L1389.5 1162L1390.1 1163.9L1390.7 1159.1L1391.3 1163.5L1391.9 1162.5L1392.4 1163.7L1393 1157.2L1393.6 1161.7L1394.2 1155L1394.8 1164L1395.4 1162.6L1396 1163.7L1396.6 1161.7L1397.2 1162.7L1397.7 1160.8L1398.3 1161.6L1398.9 1159.8L1399.5 1160.8L1400.1 1159.6L1400.7 1160L1401.3 1158L1401.9 1158.7L1402.5 1157.1L1403 1158L1403.6 1155.9L1404.2 1156.3L1404.8 1155.2L1405.4 1157.4L1406 1156L1406.6 1158L1407.2 1149L1407.7 1159L1408.3 1157.5L1408.9 1159.2L1409.5 1157.5L1410.1 1158.5L1410.7 1157L1411.3 1158.3L1411.9 1157.1L1412.5 1157.7L1413 1156.3L1413.6 1157.3L1414.2 1156.3L1414.8 1157.8L1415.4 1156L1416 1156.7L1416.6 1148.8L1417.2 1151.3L1417.8 1154.1L1418.3 1148.5L1418.9 1153.1L1419.5 1153.2L1420.1 1149.7L1420.7 1149.9L1421.3 1146.7L1421.9 1146.4L1422.5 1143.8L1423 1143.5L1423.6 1139.9L1424.2 1136.1L1424.8 1136.9L1425.4 1135.8L1426 1132.9L1426.6 1133L1427.2 1130.4L1427.8 1132.1L1428.3 1123.7L1428.9 1124.5L1429.5 1130L1430.1 1130.8L1430.7 1129.4L1431.3 1130.8L1431.9 1129.4L1432.5 1131.3L1433.1 1130.3L1433.6 1124.4L1434.2 1127.1L1434.8 1132.6L1435.4 1131.6L1436 1133.7L1436.6 1132.2L1437.2 1132L1437.8 1133.5L1438.3 1135.1L1438.9 1133.4L1439.5 1135.6L1440.1 1134.5L1440.7 1136.2L1441.3 1135L1441.9 1132.3L1442.5 1135L1443.1 1137.2L1443.6 1135.7L1444.2 1137.2L1444.8 1135.8L1445.4 1136.9L1446 1135.9L1446.6 1137.2L1447.2 1136.2L1447.8 1137.8L1448.4 1136.2L1448.9 1138L1449.5 1137L1450.1 1138.4L1450.7 1137.2L1451.3 1132.7L1451.9 1137.6L1452.5 1138.7L1453.1 1137.9L1453.6 1136.2L1454.2 1137.8L1454.8 1139.6L1455.4 1138L1456 1131.9L1456.6 1138.3L1457.2 1140.8L1457.8 1140.7L1458.4 1143.7L1458.9 1143.6L1459.5 1143.1L1460.1 1146.5L1460.7 1149.6L1461.3 1141.9L1461.9 1152.5L1462.5 1152.8L1463.1 1155.4L1463.7 1155.4L1464.2 1158.2L1464.8 1157.1L1465.4 1156.3L1466 1151.8L1466.6 1160.5L1467.2 1158.9L1467.8 1157.5L1468.4 1156.8L1468.9 1160.7L1469.5 1159.2L1470.1 1160.8L1470.7 1158.9L1471.3 1160.6L1471.9 1151.8L1472.5 1160.6L1473.1 1159.5L1473.7 1160.3L1474.2 1158.6L1474.8 1160.1L1475.4 1157.9L1476 1159.4L1476.6 1157.4L1477.2 1158.7L1477.8 1157.1L1478.4 1158.4L1479 1156.6L1479.5 1157.8L1480.1 1155.1L1480.7 1153.6L1481.3 1149.1L1481.9 1149L1482.5 1146.9L1483.1 1148.3L1483.7 1147L1484.2 1147.8L1484.8 1146.4L1485.4 1147.2L1486 1145.3L1486.6 1150.4L1487.2 1142.1L1487.8 1145.8L1488.4 1144.1L1489 1145.3L1489.5 1143.6L1490.1 1144.6L1490.7 1142.9L1491.3 1143.5L1491.9 1141.8L1492.5 1142.5L1493.1 1140.6L1493.7 1141.8L1494.3 1140.1L1494.8 1140.8L1495.4 1138.1L1496 1137.3L1496.6 1133.7L1497.2 1132.7L1497.8 1129.5L1498.4 1128.9L1499 1120.1L1499.6 1124L1500.1 1120.3L1500.7 1119.7L1501.3 1115.3L1501.9 1114.9L1502.5 1110.6L1503.1 1108.6L1503.7 1104.6L1504.3 1103L1504.8 1098.1L1505.4 1097.3L1506 1086.9L1506.6 1093.3L1507.2 1090.7L1507.8 1090.3L1508.4 1088.3L1509 1089L1509.6 1086.6L1510.1 1087.3L1510.7 1085.4L1511.3 1086.5L1511.9 1085.1L1512.5 1086.9L1513.1 1084.7L1513.7 1085.9L1514.3 1084.3L1514.9 1085.7L1515.4 1084.2L1516 1085.4L1516.6 1077.5L1517.2 1080.1L1517.8 1082.6L1518.4 1083.8L1519 1082.1L1519.6 1083.6L1520.1 1078.2L1520.7 1083L1521.3 1081.9L1521.9 1083.2L1522.5 1081L1523.1 1082.9L1523.7 1081.4L1524.3 1081.9L1524.9 1080.1L1525.4 1081.5L1526 1079.6L1526.6 1083.3L1527.2 1078.8L1527.8 1079.4L1528.4 1077.3L1529 1079.2L1529.6 1077.3L1530.2 1070.8L1530.7 1076.5L1531.3 1078L1531.9 1076.2L1532.5 1077.5L1533.1 1076.1L1533.7 1076.8L1534.3 1074.9L1534.9 1076.2L1535.4 1074.2L1536 1075.3L1536.6 1073.4L1537.2 1074.4L1537.8 1071.6L1538.4 1072.6L1539 1073L1539.6 1076L1540.2 1075.9L1540.7 1079.2L1541.3 1079.1L1541.9 1081.9L1542.5 1082.7L1543.1 1085.9L1543.7 1085.9L1544.3 1089.4L1544.9 1088.9L1545.5 1091.5L1546 1091.1L1546.6 1093.1L1547.2 1092.8L1547.8 1095.3L1548.4 1093.9L1549 1090.6L1549.6 1094.7L1550.2 1096.1L1550.7 1094.5L1551.3 1096.7L1551.9 1095.4L1552.5 1097.4L1553.1 1096.4L1553.7 1098L1554.3 1096.9L1554.9 1099.2L1555.5 1098.2L1556 1095.9L1556.6 1099.3L1557.2 1100.7L1557.8 1095.9L1558.4 1101L1559 1097.7L1559.6 1095.6L1560.2 1101.2L1560.8 1101.6L1561.3 1100.1L1561.9 1101.2L1562.5 1099.3L1563.1 1099.6L1563.7 1098.4L1564.3 1099.2L1564.9 1096.4L1565.5 1096.7L1566 1094.5L1566.6 1095.4L1567.2 1092.5L1567.8 1093.5L1568.4 1091.1L1569 1091.2L1569.6 1088.1L1570.2 1088.7L1570.8 1086.3L1571.3 1086.7L1571.9 1084.1L1572.5 1085.9L1573.1 1077.4L1573.7 1085.7L1574.3 1084.1L1574.9 1085.9L1575.5 1084.9L1576.1 1086.1L1576.6 1078.5L1577.2 1087.3L1577.8 1085.8L1578.4 1087.5L1579 1084L1579.6 1087.5L1580.2 1086L1580.8 1086.9L1581.3 1084.4L1581.9 1085.5L1582.5 1083.2L1583.1 1084.3L1583.7 1082L1584.3 1082.6L1584.9 1080L1585.5 1077.2L1586.1 1074L1586.6 1079.4L1587.2 1077L1587.8 1077.6L1588.4 1075.4L1589 1077.1L1589.6 1076.2L1590.2 1078L1590.8 1077.7L1591.4 1072L1591.9 1078.4L1592.5 1080.6L1593.1 1079.9L1593.7 1081.9L1594.3 1080.5L1594.9 1082.8L1595.5 1081.4L1596.1 1083.9L1596.6 1083L1597.2 1083.1L1597.8 1081.2L1598.4 1082L1599 1080.2L1599.6 1080.3L1600.2 1078.4L1600.8 1079L1601.4 1077.4L1601.9 1077.5L1602.5 1069L1603.1 1069.9L1603.7 1075.1L1604.3 1075.8L1604.9 1067.4L1605.5 1074.5L1606.1 1073L1606.7 1074.2L1607.2 1072.9L1607.8 1073.6L1608.4 1072L1609 1073.6L1609.6 1072.4L1610.2 1073.5L1610.8 1072.5L1611.4 1074.9L1611.9 1073.9L1612.5 1068L1613.1 1072.6L1613.7 1076.6L1614.3 1075.2L1614.9 1071.3L1615.5 1073.3L1616.1 1073.3L1616.7 1071.3L1617.2 1071.6L1617.8 1069.2L1618.4 1069.9L1619 1067.5L1619.6 1065.1L1620.2 1065.7L1620.8 1065.8L1621.4 1063.2L1622 1063.8L1622.5 1061.6L1623.1 1063.2L1623.7 1061.7L1624.3 1063.6L1624.9 1062.1L1625.5 1063.9L1626.1 1063.3L1626.7 1065.9L1627.3 1066.4L1627.8 1069.4L1628.4 1069.4L1629 1072.3L1629.6 1068.2L1630.2 1075.4L1630.8 1073.4L1631.4 1079.2L1632 1079.1L1632.5 1082.3L1633.1 1082.5L1633.7 1086.2L1634.3 1086.2L1634.9 1089.6L1635.5 1090.1L1636.1 1092.2L1636.7 1088.3L1637.3 1094.1L1637.8 1092.8L1638.4 1094.9L1639 1093.8L1639.6 1095.6L1640.2 1093.7L1640.8 1087.9L1641.4 1092.5L1642 1093.3L1642.6 1091.6L1643.1 1092.2L1643.7 1091L1644.3 1089.1L1644.9 1090.1L1645.5 1090.9L1646.1 1089.4L1646.7 1090.8L1647.3 1088.8L1647.8 1090.3L1648.4 1088.5L1649 1090L1649.6 1088.3L1650.2 1089.2L1650.8 1088.3L1651.4 1089.1L1652 1088L1652.6 1089L1653.1 1082.9L1653.7 1088.8L1654.3 1087.4L1654.9 1088.3L1655.5 1086.4L1656.1 1079.2L1656.7 1085.6L1657.3 1086L1657.9 1084.3L1658.4 1085.7L1659 1083.7L1659.6 1084.1L1660.2 1077.3L1660.8 1082.8L1661.4 1081L1662 1081.8L1662.6 1079.3L1663.1 1080L1663.7 1078.8L1664.3 1080.3L1664.9 1072.3L1665.5 1082L1666.1 1080.5L1666.7 1082.6L1667.3 1077.2L1667.9 1083.5L1668.4 1082.9L1669 1080.2L1669.6 1081.7L1670.2 1083.3L1670.8 1081.2L1671.4 1082.3L1672 1081L1672.6 1082.1L1673.2 1080.4L1673.7 1081.6L1674.3 1079.9L1674.9 1080.8L1675.5 1078.9L1676.1 1075.8L1676.7 1078.4L1677.3 1079.2L1677.9 1078L1678.4 1079.1L1679 1078.4L1679.6 1080.3L1680.2 1079.3L1680.8 1081.8L1681.4 1080.8L1682 1082.4L1682.6 1078.9L1683.2 1083.5L1683.7 1083.4L1684.3 1084.7L1684.9 1084.4L1685.5 1083.1L1686.1 1085.6L1686.7 1087.6L1687.3 1086.2L1687.9 1084.3L1688.5 1086.3L1689 1088L1689.6 1086.3L1690.2 1087.8L1690.8 1086.3L1691.4 1087.6L1692 1086.1L1692.6 1087.4L1693.2 1079.1L1693.7 1087.5L1694.3 1085.6L1694.9 1087.7L1695.5 1086.1L1696.1 1087.2L1696.7 1086.2L1697.3 1087.7L1697.9 1086.2L1698.5 1087.6L1699 1086.5L1699.6 1087.8L1700.2 1086.6L1700.8 1088.8L1701.4 1081.9L1702 1089.2L1702.6 1087.9L1703.2 1089.5L1703.8 1082.1L1704.3 1090.7L1704.9 1090.1L1705.5 1092.1L1706.1 1091.2L1706.7 1086.6L1707.3 1092.3L1707.9 1093.3L1708.5 1087.7L1709 1093.6L1709.6 1090.1L1710.2 1093.9L1710.8 1092.3L1711.4 1092.9L1712 1087.3L1712.6 1090.9L1713.2 1088.3L1713.8 1088.9L1714.3 1086.6L1714.9 1082.8L1715.5 1084.3L1716.1 1083.9L1716.7 1081.7L1717.3 1076L1717.9 1079L1718.5 1079.1L1719.1 1075.8L1719.6 1078.1L1720.2 1077.7L1720.8 1081L1721.4 1080.1L1722 1083L1722.6 1083.1L1723.2 1086L1723.8 1085.7L1724.3 1088.7L1724.9 1089L1725.5 1092.3L1726.1 1091.7L1726.7 1093.3L1727.3 1092.3L1727.9 1093.5L1728.5 1092.4L1729.1 1094.2L1729.6 1092.2L1730.2 1094.3L1730.8 1092.5L1731.4 1094.1L1732 1092.9L1732.6 1094.2L1733.2 1092.8L1733.8 1088.5L1734.4 1093.4L1734.9 1090.6L1735.5 1093.9L1736.1 1091.3L1736.7 1095.3L1737.3 1097.4L1737.9 1089L1738.5 1098.9L1739.1 1098.4L1739.6 1100.5L1740.2 1099.4L1740.8 1101.5L1741.4 1100.5L1742 1101.8L1742.6 1099.6L1743.2 1100.5L1743.8 1098.2L1744.4 1098.6L1744.9 1096.1L1745.5 1097.2L1746.1 1094.6L1746.7 1094.9L1747.3 1093.2L1747.9 1094.3L1748.5 1093.7L1749.1 1096L1749.7 1095.7L1750.2 1097.5L1750.8 1090.6L1751.4 1097.7L1752 1096.2L1752.6 1097.4L1753.2 1096L1753.8 1097.4L1754.4 1095.8L1755 1097.2L1755.5 1096L1756.1 1097.1L1756.7 1095.4L1757.3 1096.7L1757.9 1095.3L1758.5 1097.2L1759.1 1095.5L1759.7 1096.4L1760.2 1095.6L1760.8 1091.1L1761.4 1089.9L1762 1096.1L1762.6 1093.2L1763.2 1094L1763.8 1091.8L1764.4 1092.2L1765 1089.4L1765.5 1089.3L1766.1 1085.4L1766.7 1085.3L1767.3 1081.9L1767.9 1079.6L1768.5 1074.5L1769.1 1071.7L1769.7 1066.9L1770.3 1064.5L1770.8 1059.5L1771.4 1057.5L1772 1052.5L1772.6 1049.8L1773.2 1045.2L1773.8 1040.9L1774.4 1039.8L1775 1038.2L1775.5 1034.2L1776.1 1033.2L1776.7 1029.3L1777.3 1026.9L1777.9 1022.1L1778.5 1019.7L1779.1 1009.8L1779.7 1012.4L1780.3 1007.4L1780.8 1004.2L1781.4 997.7L1782 994.5L1782.6 988L1783.2 984.1L1783.8 976.1L1784.4 972L1785 965.2L1785.6 960.7L1786.1 954.2L1786.7 949.9L1787.3 942.3L1787.9 936.9L1788.5 929L1789.1 924.6L1789.7 917.3L1790.3 913.1L1790.8 905.1L1791.4 900.2L1792 892.6L1792.6 887.5L1793.2 881L1793.8 874L1794.4 864.4L1795 857.1L1795.6 847.3L1796.1 840L1796.7 830L1797.3 822.5L1797.9 811.2L1798.5 802.5L1799.1 791.3L1799.7 782.9L1800.3 771.9L1800.9 760.8L1801.4 749.6L1802 738.4L1802.6 727.2L1803.2 716.5L1803.8 707.1L1804.4 697.7L1805 688.2L1805.6 678.8L1806.1 670L1806.7 661.8L1807.3 653.6L1807.9 645.3L1808.5 637.1L1809.1 629.7L1809.7 622.4L1810.3 615.2L1810.9 607.9L1811.4 600.7L1812 593.4L1812.6 586.4L1813.2 579.5L1813.8 572.6L1814.4 565.6L1815 558.7L1815.6 551.8L1816.2 544.9L1816.7 538L1817.3 530.4L1817.9 522.5L1818.5 514.6L1819.1 506.7L1819.7 498.9L1820.3 491L1820.9 483.1L1821.4 475.2L1822 467.3L1822.6 459.7L1823.2 452.9L1823.8 446.1L1824.4 439.3L1825 432.5L1825.6 425.7L1826.2 418.7L1826.7 408.9L1827.3 399.1L1827.9 389.3L1828.5 379.5L1829.1 369.7L1829.7 360.2L1830.3 351.4L1830.9 342.6L1831.5 333.8L1832 324.9L1832.6 314.1L1833.2 302.3L1833.8 290.5L1834.4 278.8L1835 270.1L1835.6 261.7L1836.2 253.3L1836.7 246.7L1837.3 241.2L1837.9 235.8L1838.5 230.4L1839.1 224.9L1839.7 219.5L1840.3 214.7L1840.9 210.6L1841.5 206.5L1842 202.4L1842.6 198.2L1843.2 194.8L1843.8 191.6L1844.4 188.4L1845 185.2L1845.6 182L1846.2 178.9L1846.8 175.7L1847.3 171.8L1847.9 167.8L1848.5 163.7L1849.1 160.2L1849.7 156.8L1850.3 153.4L1850.9 150.1L1851.5 146.7L1852 143.3L1852.6 140.4L1853.2 137.9L1853.8 135.4L1854.4 133.1L1855 131.4L1855.6 129.6L1856.2 127.8L1856.8 126.6L1857.3 125.4L1857.9 124.2L1858.5 123.1L1859.1 122L1859.7 121.2L1860.3 120.4L1860.9 119.6L1861.5 118.7L1862.1 118.2L1862.6 117.6L1863.2 117L1863.8 116.4L1864.4 115.9L1865 115.4L1865.6 114.9L1866.2 114.5L1866.8 114L1867.3 113.8L1867.9 113.6L1868.5 113.3L1869.1 113.1L1869.7 113L1870.3 112.9L1870.9 112.8L1871.5 112.7L1872.1 112.6L1872.6 112.5L1873.2 112.5L1873.8 112.5L1874.4 112.4L1875 112.4"/>
</g>
<text font-size="41.67" transform="translate(257.73 1328.05) rotate(-30)">09-27 00</text>
<text font-size="41.67" transform="translate(401.52 1328.05) rotate(-30)">09-27 01</text>
<text font-size="41.67" transform="translate(544.81 1328.05) rotate(-30)">09-27 02</text>
<text font-size="41.67" transform="translate(688.6 1328.05) rotate(-30)">09-27 03</text>
<text font-size="41.67" transform="translate(831.64 1328.05) rotate(-30)">09-27 04</text>
<text font-size="41.67" transform="translate(975.68 1328.05) rotate(-30)">09-27 05</text>
<text font-size="41.67" transform="translate(1118.72 1328.05) rotate(-30)">09-27 06</text>
<text font-size="41.67" transform="translate(1262.51 1328.05) rotate(-30)">09-27 07</text>
<text font-size="41.67" transform="translate(1405.55 1328.05) rotate(-30)">09-27 08</text>
<text font-size="41.67" transform="translate(1549.59 1328.05) rotate(-30)">09-27 09</text>
<text font-size="41.67" transform="translate(1693.63 1328.05) rotate(-30)">09-27 10</text>
<text id="xlabel" font-size="41.67" x="1027.09 1050.09 1061.67 1102.04" y="1385.63">Time</text>
<text id="ylabel" font-size="41.67" text-anchor="middle" x="81.72" y="646.4" transform="rotate(-90 81.72 646.4)">ADU</text>
<text id="title" font-size="50" x="377.87 406.42 437.11 467.71 496.63 512.5 530.23 544.19 574.87 588.95 620.62 636.42 662.71 694.33 742.89 769.02 785.01 802.68 833.2 853.68 869.48 904.65 938.86 970.44 1002.47 1034.09 1066.08 1091.05 1122.64 1154.57 1186.16 1217.82 1249.73 1281.58 1313.22 1345.08 1370.16 1401.94 1433.6 1465.63 1497.19 1528.82 1560.7 1585.69 1617.62 1649.39 1681.24 1712.97 1744.84" y="86.5">Peak field sums for CA0036_20250926_233711_027749</text>
<text x="178.84 204.93 232.09" y="674.57 674.96 658.77" font-size="41.67">10<tspan font-size="29.17">8</tspan></text>
<text x="109.08 142.94 185.91 213.01 239.05" y="1001.49 1001.44 1001.15 1001.51 985.99" font-size="41.67">6×10<tspan font-size="29.17">7</tspan></text>
<text x="109.05 142.94 185.91 213.01 239.03" y="231.96 231.91 231.62 231.98 215.8" font-size="41.67">2×10<tspan font-size="29.17">8</tspan></text>
<rect x="917" y="133" width="321" height="138" rx="8.33" ry="8.33" fill="#ffffff" fill-opacity="0.8" stroke="#cccccc" stroke-opacity="0.8" stroke-width="4.17"/>
<rect x="932.96" y="166.96" width="85.08" height="2.08" fill="#ff0000"/>
<rect x="932.96" y="229.96" width="85.08" height="2.08" fill="#000000"/>
<text id="legPeak" font-size="41.67" x="1050.08 1072.65 1098.12 1123.64" y="181.66">Peak</text>
<text id="legAvg" font-size="41.67" x="1050.67 1076.72 1100.57 1126.07 1143.12 1168.83 1195.19" y="243.57">Average</text>
</svg>
</body>
</html>
